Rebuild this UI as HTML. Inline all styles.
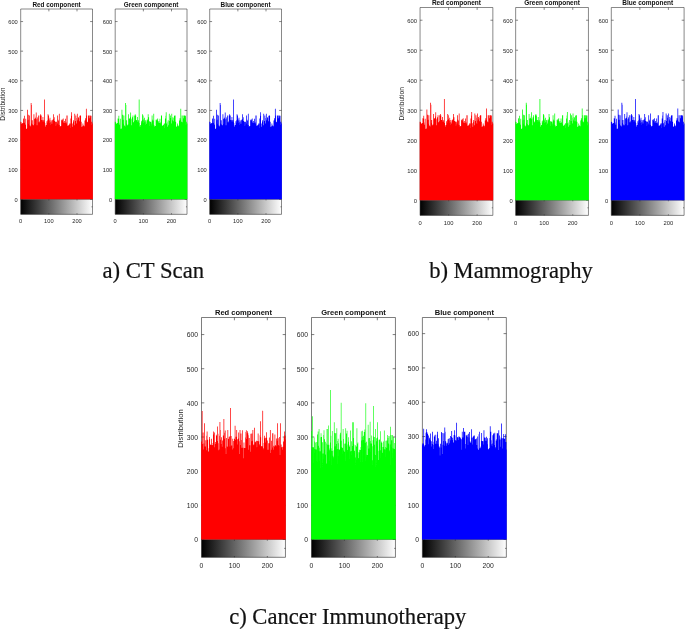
<!DOCTYPE html>
<html><head><meta charset="utf-8"><title>Histograms</title>
<style>
html,body{margin:0;padding:0;background:#fff;}
body{width:685px;height:629px;overflow:hidden;}
svg{display:block;}
.t{font-family:"Liberation Sans",Arial,sans-serif;fill:#262626;}
.b{font-family:"Liberation Sans",Arial,sans-serif;font-weight:bold;fill:#111;}
.s{font-family:"Liberation Serif","Times New Roman",serif;fill:#111;stroke:#111;stroke-width:0.2px;}
</style></head><body>
<svg width="685" height="629" viewBox="0 0 685 629">
<defs><linearGradient id="gr" x1="0" y1="0" x2="1" y2="0"><stop offset="0" stop-color="#000"/><stop offset="1" stop-color="#fff"/></linearGradient></defs>
<rect width="685" height="629" fill="#fff"/>
<rect x="20.7" y="199.3" width="71.8" height="15.05" fill="url(#gr)"/>
<path d="M20.7 214.35V9H92.5V214.35H20.7M20.7 199.3H92.5" fill="none" stroke="#262626" stroke-width="0.55"/>
<path d="M20.7 199.3h2.38M92.5 199.3h-2.38M20.7 169.68h2.38M92.5 169.68h-2.38M20.7 140.05h2.38M92.5 140.05h-2.38M20.7 110.43h2.38M92.5 110.43h-2.38M20.7 80.81h2.38M92.5 80.81h-2.38M20.7 51.18h2.38M92.5 51.18h-2.38M20.7 21.56h2.38M92.5 21.56h-2.38M48.86 9v2.38M48.86 214.35v-1.07M48.86 199.3v1.07M77.01 9v2.38M77.01 214.35v-1.07M77.01 199.3v1.07M92.5 206.82h-1.07" fill="none" stroke="#262626" stroke-width="0.55"/>
<path d="M20.33 199.3V121.73H21.07V199.3zM20.62 199.3V122.16H21.35V199.3zM20.9 199.3V122.47H21.63V199.3zM21.18 199.3V129.09H21.91V199.3zM21.46 199.3V124.02H22.19V199.3zM21.74 199.3V124.34H22.47V199.3zM22.02 199.3V123.22H22.76V199.3zM22.3 199.3V125.47H23.04V199.3zM22.59 199.3V123.05H23.32V199.3zM22.87 199.3V124.85H23.6V199.3zM23.15 199.3V118.43H23.88V199.3zM23.43 199.3V119.2H24.16V199.3zM23.71 199.3V119.22H24.44V199.3zM23.99 199.3V115.78H24.73V199.3zM24.28 199.3V122.66H25.01V199.3zM24.56 199.3V124.55H25.29V199.3zM24.84 199.3V125.13H25.57V199.3zM25.12 199.3V129.09H25.85V199.3zM25.4 199.3V118.8H26.13V199.3zM25.68 199.3V128.81H26.42V199.3zM25.97 199.3V129.26H26.7V199.3zM26.25 199.3V129.1H26.98V199.3zM26.53 199.3V129.93H27.26V199.3zM26.81 199.3V128.35H27.54V199.3zM27.09 199.3V109.84H27.82V199.3zM27.37 199.3V125.83H28.11V199.3zM27.65 199.3V120.28H28.39V199.3zM27.94 199.3V114.87H28.67V199.3zM28.22 199.3V126.06H28.95V199.3zM28.5 199.3V123.83H29.23V199.3zM28.78 199.3V119.78H29.51V199.3zM29.06 199.3V115.41H29.79V199.3zM29.34 199.3V128.03H30.08V199.3zM29.63 199.3V125.47H30.36V199.3zM29.91 199.3V126.21H30.64V199.3zM30.19 199.3V129.09H30.92V199.3zM30.47 199.3V126.7H31.2V199.3zM30.75 199.3V103.02H31.48V199.3zM31.03 199.3V105.1H31.77V199.3zM31.32 199.3V123.42H32.05V199.3zM31.6 199.3V129.09H32.33V199.3zM31.88 199.3V120.19H32.61V199.3zM32.16 199.3V124.35H32.89V199.3zM32.44 199.3V129.09H33.17V199.3zM32.72 199.3V125.35H33.46V199.3zM33 199.3V125.31H33.74V199.3zM33.29 199.3V126.5H34.02V199.3zM33.57 199.3V114.28H34.3V199.3zM33.85 199.3V129.09H34.58V199.3zM34.13 199.3V123.98H34.86V199.3zM34.41 199.3V118.67H35.14V199.3zM34.69 199.3V119.34H35.43V199.3zM34.98 199.3V118.28H35.71V199.3zM35.26 199.3V118.23H35.99V199.3zM35.54 199.3V116.7H36.27V199.3zM35.82 199.3V112.5H36.55V199.3zM36.1 199.3V119.36H36.83V199.3zM36.38 199.3V129.09H37.12V199.3zM36.66 199.3V125.37H37.4V199.3zM36.95 199.3V129.09H37.68V199.3zM37.23 199.3V118.52H37.96V199.3zM37.51 199.3V117.34H38.24V199.3zM37.79 199.3V123.69H38.52V199.3zM38.07 199.3V115.51H38.8V199.3zM38.35 199.3V125.67H39.09V199.3zM38.64 199.3V122.25H39.37V199.3zM38.92 199.3V122.24H39.65V199.3zM39.2 199.3V127.29H39.93V199.3zM39.48 199.3V121.06H40.21V199.3zM39.76 199.3V115.41H40.49V199.3zM40.04 199.3V127.12H40.78V199.3zM40.33 199.3V114.28H41.06V199.3zM40.61 199.3V123.51H41.34V199.3zM40.89 199.3V115.53H41.62V199.3zM41.17 199.3V120.87H41.9V199.3zM41.45 199.3V120.07H42.18V199.3zM41.73 199.3V120.2H42.47V199.3zM42.01 199.3V121.84H42.75V199.3zM42.3 199.3V128.66H43.03V199.3zM42.58 199.3V117.1H43.31V199.3zM42.86 199.3V128.56H43.59V199.3zM43.14 199.3V121.88H43.87V199.3zM43.42 199.3V120.33H44.15V199.3zM43.7 199.3V126.35H44.44V199.3zM43.99 199.3V122.27H44.72V199.3zM44.27 199.3V99.47H45V199.3zM44.55 199.3V122.97H45.28V199.3zM44.83 199.3V126.56H45.56V199.3zM45.11 199.3V129.09H45.84V199.3zM45.39 199.3V126.9H46.13V199.3zM45.68 199.3V125.32H46.41V199.3zM45.96 199.3V125.01H46.69V199.3zM46.24 199.3V126.85H46.97V199.3zM46.52 199.3V121.31H47.25V199.3zM46.8 199.3V125.26H47.53V199.3zM47.08 199.3V123.33H47.82V199.3zM47.36 199.3V120.06H48.1V199.3zM47.65 199.3V114.28H48.38V199.3zM47.93 199.3V124.12H48.66V199.3zM48.21 199.3V115.41H48.94V199.3zM48.49 199.3V119.25H49.22V199.3zM48.77 199.3V128.24H49.5V199.3zM49.05 199.3V123.2H49.79V199.3zM49.34 199.3V120.53H50.07V199.3zM49.62 199.3V117.76H50.35V199.3zM49.9 199.3V122.25H50.63V199.3zM50.18 199.3V125.07H50.91V199.3zM50.46 199.3V125.9H51.19V199.3zM50.74 199.3V120.2H51.48V199.3zM51.02 199.3V121.57H51.76V199.3zM51.31 199.3V125.01H52.04V199.3zM51.59 199.3V123.66H52.32V199.3zM51.87 199.3V124.6H52.6V199.3zM52.15 199.3V119.87H52.88V199.3zM52.43 199.3V125.73H53.16V199.3zM52.71 199.3V120.85H53.45V199.3zM53 199.3V119.34H53.73V199.3zM53.28 199.3V114.28H54.01V199.3zM53.56 199.3V126.33H54.29V199.3zM53.84 199.3V117.29H54.57V199.3zM54.12 199.3V125.68H54.85V199.3zM54.4 199.3V121.1H55.14V199.3zM54.69 199.3V126H55.42V199.3zM54.97 199.3V129.09H55.7V199.3zM55.25 199.3V121.94H55.98V199.3zM55.53 199.3V121.68H56.26V199.3zM55.81 199.3V123.19H56.54V199.3zM56.09 199.3V121.73H56.83V199.3zM56.37 199.3V125.56H57.11V199.3zM56.66 199.3V125.93H57.39V199.3zM56.94 199.3V123.57H57.67V199.3zM57.22 199.3V115.41H57.95V199.3zM57.5 199.3V119.49H58.23V199.3zM57.78 199.3V125.03H58.51V199.3zM58.06 199.3V120.55H58.8V199.3zM58.35 199.3V124.86H59.08V199.3zM58.63 199.3V124.77H59.36V199.3zM58.91 199.3V113.69H59.64V199.3zM59.19 199.3V125.05H59.92V199.3zM59.47 199.3V129.09H60.2V199.3zM59.75 199.3V126.85H60.49V199.3zM60.04 199.3V126.25H60.77V199.3zM60.32 199.3V127.05H61.05V199.3zM60.6 199.3V126.09H61.33V199.3zM60.88 199.3V127.27H61.61V199.3zM61.16 199.3V119.84H61.89V199.3zM61.44 199.3V121.11H62.18V199.3zM61.72 199.3V123.49H62.46V199.3zM62.01 199.3V119.41H62.74V199.3zM62.29 199.3V120.83H63.02V199.3zM62.57 199.3V126.45H63.3V199.3zM62.85 199.3V118.43H63.58V199.3zM63.13 199.3V127.94H63.86V199.3zM63.41 199.3V122.62H64.15V199.3zM63.7 199.3V122.86H64.43V199.3zM63.98 199.3V121.11H64.71V199.3zM64.26 199.3V125.88H64.99V199.3zM64.54 199.3V123.02H65.27V199.3zM64.82 199.3V123.46H65.55V199.3zM65.1 199.3V118.74H65.84V199.3zM65.38 199.3V126.17H66.12V199.3zM65.67 199.3V122.57H66.4V199.3zM65.95 199.3V123.96H66.68V199.3zM66.23 199.3V128.26H66.96V199.3zM66.51 199.3V115.41H67.24V199.3zM66.79 199.3V115.47H67.52V199.3zM67.07 199.3V129.04H67.81V199.3zM67.36 199.3V125.79H68.09V199.3zM67.64 199.3V127.31H68.37V199.3zM67.92 199.3V126.34H68.65V199.3zM68.2 199.3V125.25H68.93V199.3zM68.48 199.3V127.5H69.21V199.3zM68.76 199.3V124.66H69.5V199.3zM69.05 199.3V125.11H69.78V199.3zM69.33 199.3V123.41H70.06V199.3zM69.61 199.3V129.09H70.34V199.3zM69.89 199.3V128H70.62V199.3zM70.17 199.3V123.46H70.9V199.3zM70.45 199.3V118.56H71.19V199.3zM70.73 199.3V120.25H71.47V199.3zM71.02 199.3V115.7H71.75V199.3zM71.3 199.3V112.21H72.03V199.3zM71.58 199.3V124.99H72.31V199.3zM71.86 199.3V123.38H72.59V199.3zM72.14 199.3V129.09H72.87V199.3zM72.42 199.3V126.86H73.16V199.3zM72.71 199.3V127.1H73.44V199.3zM72.99 199.3V121.75H73.72V199.3zM73.27 199.3V120.19H74V199.3zM73.55 199.3V125.2H74.28V199.3zM73.83 199.3V125.31H74.56V199.3zM74.11 199.3V129.09H74.85V199.3zM74.4 199.3V113.69H75.13V199.3zM74.68 199.3V121.84H75.41V199.3zM74.96 199.3V121.02H75.69V199.3zM75.24 199.3V126.12H75.97V199.3zM75.52 199.3V115.41H76.25V199.3zM75.8 199.3V117.92H76.54V199.3zM76.08 199.3V123.27H76.82V199.3zM76.37 199.3V125.06H77.1V199.3zM76.65 199.3V124.21H77.38V199.3zM76.93 199.3V113.69H77.66V199.3zM77.21 199.3V122.95H77.94V199.3zM77.49 199.3V120.87H78.22V199.3zM77.77 199.3V119.68H78.51V199.3zM78.06 199.3V117.21H78.79V199.3zM78.34 199.3V118.11H79.07V199.3zM78.62 199.3V123.33H79.35V199.3zM78.9 199.3V121.26H79.63V199.3zM79.18 199.3V124.48H79.91V199.3zM79.46 199.3V116.06H80.2V199.3zM79.74 199.3V115.41H80.48V199.3zM80.03 199.3V124.78H80.76V199.3zM80.31 199.3V115.41H81.04V199.3zM80.59 199.3V124.32H81.32V199.3zM80.87 199.3V121.82H81.6V199.3zM81.15 199.3V126.99H81.88V199.3zM81.43 199.3V127.31H82.17V199.3zM81.72 199.3V126.82H82.45V199.3zM82 199.3V126.8H82.73V199.3zM82.28 199.3V126.09H83.01V199.3zM82.56 199.3V123.56H83.29V199.3zM82.84 199.3V125.57H83.57V199.3zM83.12 199.3V126.6H83.86V199.3zM83.41 199.3V125.56H84.14V199.3zM83.69 199.3V127.22H84.42V199.3zM83.97 199.3V129.09H84.7V199.3zM84.25 199.3V125.96H84.98V199.3zM84.53 199.3V120.54H85.26V199.3zM84.81 199.3V124.09H85.55V199.3zM85.09 199.3V118.33H85.83V199.3zM85.38 199.3V120.22H86.11V199.3zM85.66 199.3V124.01H86.39V199.3zM85.94 199.3V108.65H86.67V199.3zM86.22 199.3V115.41H86.95V199.3zM86.5 199.3V121.83H87.23V199.3zM86.78 199.3V121.63H87.52V199.3zM87.07 199.3V124.7H87.8V199.3zM87.35 199.3V122.32H88.08V199.3zM87.63 199.3V128.22H88.36V199.3zM87.91 199.3V115.47H88.64V199.3zM88.19 199.3V115.41H88.92V199.3zM88.47 199.3V118.45H89.21V199.3zM88.76 199.3V120.21H89.49V199.3zM89.04 199.3V118.29H89.77V199.3zM89.32 199.3V115.41H90.05V199.3zM89.6 199.3V120.41H90.33V199.3zM89.88 199.3V115.41H90.61V199.3zM90.16 199.3V118.44H90.9V199.3zM90.44 199.3V117.54H91.18V199.3zM90.73 199.3V115.74H91.46V199.3zM91.01 199.3V129.09H91.74V199.3zM91.29 199.3V125.24H92.02V199.3zM91.57 199.3V121.77H92.3V199.3zM91.85 199.3V126.65H92.58V199.3zM92.13 199.3V123.52H92.87V199.3z" fill="#ff0000"/>
<text x="17.79" y="201.7" font-size="5.7" text-anchor="end" class="t">0</text>
<text x="17.79" y="172.08" font-size="5.7" text-anchor="end" class="t">100</text>
<text x="17.79" y="142.46" font-size="5.7" text-anchor="end" class="t">200</text>
<text x="17.79" y="112.83" font-size="5.7" text-anchor="end" class="t">300</text>
<text x="17.79" y="83.21" font-size="5.7" text-anchor="end" class="t">400</text>
<text x="17.79" y="53.59" font-size="5.7" text-anchor="end" class="t">500</text>
<text x="17.79" y="23.96" font-size="5.7" text-anchor="end" class="t">600</text>
<text x="20.7" y="223.25" font-size="5.7" text-anchor="middle" class="t">0</text>
<text x="48.86" y="223.25" font-size="5.7" text-anchor="middle" class="t">100</text>
<text x="77.01" y="223.25" font-size="5.7" text-anchor="middle" class="t">200</text>
<text x="56.6" y="6.7" font-size="6.4" text-anchor="middle" class="b">Red component</text>
<text transform="translate(4.6 104.15) rotate(-90)" font-size="6.6" text-anchor="middle" class="t">Distribution</text>
<rect x="115.2" y="199.3" width="71.8" height="15.05" fill="url(#gr)"/>
<path d="M115.2 214.35V9H187V214.35H115.2M115.2 199.3H187" fill="none" stroke="#262626" stroke-width="0.55"/>
<path d="M115.2 199.3h2.38M187 199.3h-2.38M115.2 169.68h2.38M187 169.68h-2.38M115.2 140.05h2.38M187 140.05h-2.38M115.2 110.43h2.38M187 110.43h-2.38M115.2 80.81h2.38M187 80.81h-2.38M115.2 51.18h2.38M187 51.18h-2.38M115.2 21.56h2.38M187 21.56h-2.38M143.36 9v2.38M143.36 214.35v-1.07M143.36 199.3v1.07M171.51 9v2.38M171.51 214.35v-1.07M171.51 199.3v1.07M187 206.82h-1.07" fill="none" stroke="#262626" stroke-width="0.55"/>
<path d="M114.83 199.3V121.73H115.57V199.3zM115.12 199.3V122.16H115.85V199.3zM115.4 199.3V122.47H116.13V199.3zM115.68 199.3V129.09H116.41V199.3zM115.96 199.3V124.02H116.69V199.3zM116.24 199.3V124.34H116.97V199.3zM116.52 199.3V123.22H117.26V199.3zM116.8 199.3V125.47H117.54V199.3zM117.09 199.3V123.05H117.82V199.3zM117.37 199.3V124.85H118.1V199.3zM117.65 199.3V118.43H118.38V199.3zM117.93 199.3V119.2H118.66V199.3zM118.21 199.3V119.22H118.94V199.3zM118.49 199.3V115.78H119.23V199.3zM118.78 199.3V122.66H119.51V199.3zM119.06 199.3V124.55H119.79V199.3zM119.34 199.3V125.13H120.07V199.3zM119.62 199.3V129.09H120.35V199.3zM119.9 199.3V118.8H120.63V199.3zM120.18 199.3V128.81H120.92V199.3zM120.47 199.3V129.26H121.2V199.3zM120.75 199.3V129.1H121.48V199.3zM121.03 199.3V129.93H121.76V199.3zM121.31 199.3V128.35H122.04V199.3zM121.59 199.3V109.84H122.32V199.3zM121.87 199.3V125.83H122.61V199.3zM122.15 199.3V120.28H122.89V199.3zM122.44 199.3V114.87H123.17V199.3zM122.72 199.3V126.06H123.45V199.3zM123 199.3V123.83H123.73V199.3zM123.28 199.3V119.78H124.01V199.3zM123.56 199.3V115.41H124.29V199.3zM123.84 199.3V128.03H124.58V199.3zM124.13 199.3V125.47H124.86V199.3zM124.41 199.3V126.21H125.14V199.3zM124.69 199.3V129.09H125.42V199.3zM124.97 199.3V126.7H125.7V199.3zM125.25 199.3V103.02H125.98V199.3zM125.53 199.3V105.1H126.27V199.3zM125.82 199.3V123.42H126.55V199.3zM126.1 199.3V129.09H126.83V199.3zM126.38 199.3V120.19H127.11V199.3zM126.66 199.3V124.35H127.39V199.3zM126.94 199.3V129.09H127.67V199.3zM127.22 199.3V125.35H127.96V199.3zM127.5 199.3V125.31H128.24V199.3zM127.79 199.3V126.5H128.52V199.3zM128.07 199.3V114.28H128.8V199.3zM128.35 199.3V129.09H129.08V199.3zM128.63 199.3V123.98H129.36V199.3zM128.91 199.3V118.67H129.64V199.3zM129.19 199.3V119.34H129.93V199.3zM129.48 199.3V118.28H130.21V199.3zM129.76 199.3V118.23H130.49V199.3zM130.04 199.3V116.7H130.77V199.3zM130.32 199.3V112.5H131.05V199.3zM130.6 199.3V119.36H131.33V199.3zM130.88 199.3V129.09H131.62V199.3zM131.16 199.3V125.37H131.9V199.3zM131.45 199.3V129.09H132.18V199.3zM131.73 199.3V118.52H132.46V199.3zM132.01 199.3V117.34H132.74V199.3zM132.29 199.3V123.69H133.02V199.3zM132.57 199.3V115.51H133.3V199.3zM132.85 199.3V125.67H133.59V199.3zM133.14 199.3V122.25H133.87V199.3zM133.42 199.3V122.24H134.15V199.3zM133.7 199.3V127.29H134.43V199.3zM133.98 199.3V121.06H134.71V199.3zM134.26 199.3V115.41H134.99V199.3zM134.54 199.3V127.12H135.28V199.3zM134.83 199.3V114.28H135.56V199.3zM135.11 199.3V123.51H135.84V199.3zM135.39 199.3V115.53H136.12V199.3zM135.67 199.3V120.87H136.4V199.3zM135.95 199.3V120.07H136.68V199.3zM136.23 199.3V120.2H136.97V199.3zM136.51 199.3V121.84H137.25V199.3zM136.8 199.3V128.66H137.53V199.3zM137.08 199.3V117.1H137.81V199.3zM137.36 199.3V128.56H138.09V199.3zM137.64 199.3V121.88H138.37V199.3zM137.92 199.3V120.33H138.65V199.3zM138.2 199.3V126.35H138.94V199.3zM138.49 199.3V122.27H139.22V199.3zM138.77 199.3V99.47H139.5V199.3zM139.05 199.3V122.97H139.78V199.3zM139.33 199.3V126.56H140.06V199.3zM139.61 199.3V129.09H140.34V199.3zM139.89 199.3V126.9H140.63V199.3zM140.18 199.3V125.32H140.91V199.3zM140.46 199.3V125.01H141.19V199.3zM140.74 199.3V126.85H141.47V199.3zM141.02 199.3V121.31H141.75V199.3zM141.3 199.3V125.26H142.03V199.3zM141.58 199.3V123.33H142.32V199.3zM141.86 199.3V120.06H142.6V199.3zM142.15 199.3V114.28H142.88V199.3zM142.43 199.3V124.12H143.16V199.3zM142.71 199.3V115.41H143.44V199.3zM142.99 199.3V119.25H143.72V199.3zM143.27 199.3V128.24H144V199.3zM143.55 199.3V123.2H144.29V199.3zM143.84 199.3V120.53H144.57V199.3zM144.12 199.3V117.76H144.85V199.3zM144.4 199.3V122.25H145.13V199.3zM144.68 199.3V125.07H145.41V199.3zM144.96 199.3V125.9H145.69V199.3zM145.24 199.3V120.2H145.98V199.3zM145.52 199.3V121.57H146.26V199.3zM145.81 199.3V125.01H146.54V199.3zM146.09 199.3V123.66H146.82V199.3zM146.37 199.3V124.6H147.1V199.3zM146.65 199.3V119.87H147.38V199.3zM146.93 199.3V125.73H147.66V199.3zM147.21 199.3V120.85H147.95V199.3zM147.5 199.3V119.34H148.23V199.3zM147.78 199.3V114.28H148.51V199.3zM148.06 199.3V126.33H148.79V199.3zM148.34 199.3V117.29H149.07V199.3zM148.62 199.3V125.68H149.35V199.3zM148.9 199.3V121.1H149.64V199.3zM149.19 199.3V126H149.92V199.3zM149.47 199.3V129.09H150.2V199.3zM149.75 199.3V121.94H150.48V199.3zM150.03 199.3V121.68H150.76V199.3zM150.31 199.3V123.19H151.04V199.3zM150.59 199.3V121.73H151.33V199.3zM150.87 199.3V125.56H151.61V199.3zM151.16 199.3V125.93H151.89V199.3zM151.44 199.3V123.57H152.17V199.3zM151.72 199.3V115.41H152.45V199.3zM152 199.3V119.49H152.73V199.3zM152.28 199.3V125.03H153.01V199.3zM152.56 199.3V120.55H153.3V199.3zM152.85 199.3V124.86H153.58V199.3zM153.13 199.3V124.77H153.86V199.3zM153.41 199.3V113.69H154.14V199.3zM153.69 199.3V125.05H154.42V199.3zM153.97 199.3V129.09H154.7V199.3zM154.25 199.3V126.85H154.99V199.3zM154.54 199.3V126.25H155.27V199.3zM154.82 199.3V127.05H155.55V199.3zM155.1 199.3V126.09H155.83V199.3zM155.38 199.3V127.27H156.11V199.3zM155.66 199.3V119.84H156.39V199.3zM155.94 199.3V121.11H156.68V199.3zM156.22 199.3V123.49H156.96V199.3zM156.51 199.3V119.41H157.24V199.3zM156.79 199.3V120.83H157.52V199.3zM157.07 199.3V126.45H157.8V199.3zM157.35 199.3V118.43H158.08V199.3zM157.63 199.3V127.94H158.36V199.3zM157.91 199.3V122.62H158.65V199.3zM158.2 199.3V122.86H158.93V199.3zM158.48 199.3V121.11H159.21V199.3zM158.76 199.3V125.88H159.49V199.3zM159.04 199.3V123.02H159.77V199.3zM159.32 199.3V123.46H160.05V199.3zM159.6 199.3V118.74H160.34V199.3zM159.88 199.3V126.17H160.62V199.3zM160.17 199.3V122.57H160.9V199.3zM160.45 199.3V123.96H161.18V199.3zM160.73 199.3V128.26H161.46V199.3zM161.01 199.3V115.41H161.74V199.3zM161.29 199.3V115.47H162.02V199.3zM161.57 199.3V129.04H162.31V199.3zM161.86 199.3V125.79H162.59V199.3zM162.14 199.3V127.31H162.87V199.3zM162.42 199.3V126.34H163.15V199.3zM162.7 199.3V125.25H163.43V199.3zM162.98 199.3V127.5H163.71V199.3zM163.26 199.3V124.66H164V199.3zM163.55 199.3V125.11H164.28V199.3zM163.83 199.3V123.41H164.56V199.3zM164.11 199.3V129.09H164.84V199.3zM164.39 199.3V128H165.12V199.3zM164.67 199.3V123.46H165.4V199.3zM164.95 199.3V118.56H165.69V199.3zM165.23 199.3V120.25H165.97V199.3zM165.52 199.3V115.7H166.25V199.3zM165.8 199.3V112.21H166.53V199.3zM166.08 199.3V124.99H166.81V199.3zM166.36 199.3V123.38H167.09V199.3zM166.64 199.3V129.09H167.37V199.3zM166.92 199.3V126.86H167.66V199.3zM167.21 199.3V127.1H167.94V199.3zM167.49 199.3V121.75H168.22V199.3zM167.77 199.3V120.19H168.5V199.3zM168.05 199.3V125.2H168.78V199.3zM168.33 199.3V125.31H169.06V199.3zM168.61 199.3V129.09H169.35V199.3zM168.9 199.3V113.69H169.63V199.3zM169.18 199.3V121.84H169.91V199.3zM169.46 199.3V121.02H170.19V199.3zM169.74 199.3V126.12H170.47V199.3zM170.02 199.3V115.41H170.75V199.3zM170.3 199.3V117.92H171.04V199.3zM170.58 199.3V123.27H171.32V199.3zM170.87 199.3V125.06H171.6V199.3zM171.15 199.3V124.21H171.88V199.3zM171.43 199.3V113.69H172.16V199.3zM171.71 199.3V122.95H172.44V199.3zM171.99 199.3V120.87H172.72V199.3zM172.27 199.3V119.68H173.01V199.3zM172.56 199.3V117.21H173.29V199.3zM172.84 199.3V118.11H173.57V199.3zM173.12 199.3V123.33H173.85V199.3zM173.4 199.3V121.26H174.13V199.3zM173.68 199.3V124.48H174.41V199.3zM173.96 199.3V116.06H174.7V199.3zM174.24 199.3V115.41H174.98V199.3zM174.53 199.3V124.78H175.26V199.3zM174.81 199.3V115.41H175.54V199.3zM175.09 199.3V124.32H175.82V199.3zM175.37 199.3V121.82H176.1V199.3zM175.65 199.3V126.99H176.38V199.3zM175.93 199.3V127.31H176.67V199.3zM176.22 199.3V126.82H176.95V199.3zM176.5 199.3V126.8H177.23V199.3zM176.78 199.3V126.09H177.51V199.3zM177.06 199.3V123.56H177.79V199.3zM177.34 199.3V125.57H178.07V199.3zM177.62 199.3V126.6H178.36V199.3zM177.91 199.3V125.56H178.64V199.3zM178.19 199.3V127.22H178.92V199.3zM178.47 199.3V129.09H179.2V199.3zM178.75 199.3V125.96H179.48V199.3zM179.03 199.3V120.54H179.76V199.3zM179.31 199.3V124.09H180.05V199.3zM179.59 199.3V118.33H180.33V199.3zM179.88 199.3V120.22H180.61V199.3zM180.16 199.3V124.01H180.89V199.3zM180.44 199.3V108.65H181.17V199.3zM180.72 199.3V115.41H181.45V199.3zM181 199.3V121.83H181.73V199.3zM181.28 199.3V121.63H182.02V199.3zM181.57 199.3V124.7H182.3V199.3zM181.85 199.3V122.32H182.58V199.3zM182.13 199.3V128.22H182.86V199.3zM182.41 199.3V115.47H183.14V199.3zM182.69 199.3V115.41H183.42V199.3zM182.97 199.3V118.45H183.71V199.3zM183.26 199.3V120.21H183.99V199.3zM183.54 199.3V118.29H184.27V199.3zM183.82 199.3V115.41H184.55V199.3zM184.1 199.3V120.41H184.83V199.3zM184.38 199.3V115.41H185.11V199.3zM184.66 199.3V118.44H185.4V199.3zM184.94 199.3V117.54H185.68V199.3zM185.23 199.3V115.74H185.96V199.3zM185.51 199.3V129.09H186.24V199.3zM185.79 199.3V125.24H186.52V199.3zM186.07 199.3V121.77H186.8V199.3zM186.35 199.3V126.65H187.08V199.3zM186.63 199.3V123.52H187.37V199.3z" fill="#00ff00"/>
<text x="112.29" y="201.7" font-size="5.7" text-anchor="end" class="t">0</text>
<text x="112.29" y="172.08" font-size="5.7" text-anchor="end" class="t">100</text>
<text x="112.29" y="142.46" font-size="5.7" text-anchor="end" class="t">200</text>
<text x="112.29" y="112.83" font-size="5.7" text-anchor="end" class="t">300</text>
<text x="112.29" y="83.21" font-size="5.7" text-anchor="end" class="t">400</text>
<text x="112.29" y="53.59" font-size="5.7" text-anchor="end" class="t">500</text>
<text x="112.29" y="23.96" font-size="5.7" text-anchor="end" class="t">600</text>
<text x="115.2" y="223.25" font-size="5.7" text-anchor="middle" class="t">0</text>
<text x="143.36" y="223.25" font-size="5.7" text-anchor="middle" class="t">100</text>
<text x="171.51" y="223.25" font-size="5.7" text-anchor="middle" class="t">200</text>
<text x="151.1" y="6.7" font-size="6.4" text-anchor="middle" class="b">Green component</text>
<rect x="209.7" y="199.3" width="71.8" height="15.05" fill="url(#gr)"/>
<path d="M209.7 214.35V9H281.5V214.35H209.7M209.7 199.3H281.5" fill="none" stroke="#262626" stroke-width="0.55"/>
<path d="M209.7 199.3h2.38M281.5 199.3h-2.38M209.7 169.68h2.38M281.5 169.68h-2.38M209.7 140.05h2.38M281.5 140.05h-2.38M209.7 110.43h2.38M281.5 110.43h-2.38M209.7 80.81h2.38M281.5 80.81h-2.38M209.7 51.18h2.38M281.5 51.18h-2.38M209.7 21.56h2.38M281.5 21.56h-2.38M237.86 9v2.38M237.86 214.35v-1.07M237.86 199.3v1.07M266.01 9v2.38M266.01 214.35v-1.07M266.01 199.3v1.07M281.5 206.82h-1.07" fill="none" stroke="#262626" stroke-width="0.55"/>
<path d="M209.33 199.3V121.73H210.07V199.3zM209.62 199.3V122.16H210.35V199.3zM209.9 199.3V122.47H210.63V199.3zM210.18 199.3V129.09H210.91V199.3zM210.46 199.3V124.02H211.19V199.3zM210.74 199.3V124.34H211.47V199.3zM211.02 199.3V123.22H211.76V199.3zM211.3 199.3V125.47H212.04V199.3zM211.59 199.3V123.05H212.32V199.3zM211.87 199.3V124.85H212.6V199.3zM212.15 199.3V118.43H212.88V199.3zM212.43 199.3V119.2H213.16V199.3zM212.71 199.3V119.22H213.44V199.3zM212.99 199.3V115.78H213.73V199.3zM213.28 199.3V122.66H214.01V199.3zM213.56 199.3V124.55H214.29V199.3zM213.84 199.3V125.13H214.57V199.3zM214.12 199.3V129.09H214.85V199.3zM214.4 199.3V118.8H215.13V199.3zM214.68 199.3V128.81H215.42V199.3zM214.97 199.3V129.26H215.7V199.3zM215.25 199.3V129.1H215.98V199.3zM215.53 199.3V129.93H216.26V199.3zM215.81 199.3V128.35H216.54V199.3zM216.09 199.3V109.84H216.82V199.3zM216.37 199.3V125.83H217.11V199.3zM216.65 199.3V120.28H217.39V199.3zM216.94 199.3V114.87H217.67V199.3zM217.22 199.3V126.06H217.95V199.3zM217.5 199.3V123.83H218.23V199.3zM217.78 199.3V119.78H218.51V199.3zM218.06 199.3V115.41H218.79V199.3zM218.34 199.3V128.03H219.08V199.3zM218.63 199.3V125.47H219.36V199.3zM218.91 199.3V126.21H219.64V199.3zM219.19 199.3V129.09H219.92V199.3zM219.47 199.3V126.7H220.2V199.3zM219.75 199.3V103.02H220.48V199.3zM220.03 199.3V105.1H220.77V199.3zM220.32 199.3V123.42H221.05V199.3zM220.6 199.3V129.09H221.33V199.3zM220.88 199.3V120.19H221.61V199.3zM221.16 199.3V124.35H221.89V199.3zM221.44 199.3V129.09H222.17V199.3zM221.72 199.3V125.35H222.46V199.3zM222 199.3V125.31H222.74V199.3zM222.29 199.3V126.5H223.02V199.3zM222.57 199.3V114.28H223.3V199.3zM222.85 199.3V129.09H223.58V199.3zM223.13 199.3V123.98H223.86V199.3zM223.41 199.3V118.67H224.14V199.3zM223.69 199.3V119.34H224.43V199.3zM223.98 199.3V118.28H224.71V199.3zM224.26 199.3V118.23H224.99V199.3zM224.54 199.3V116.7H225.27V199.3zM224.82 199.3V112.5H225.55V199.3zM225.1 199.3V119.36H225.83V199.3zM225.38 199.3V129.09H226.12V199.3zM225.66 199.3V125.37H226.4V199.3zM225.95 199.3V129.09H226.68V199.3zM226.23 199.3V118.52H226.96V199.3zM226.51 199.3V117.34H227.24V199.3zM226.79 199.3V123.69H227.52V199.3zM227.07 199.3V115.51H227.8V199.3zM227.35 199.3V125.67H228.09V199.3zM227.64 199.3V122.25H228.37V199.3zM227.92 199.3V122.24H228.65V199.3zM228.2 199.3V127.29H228.93V199.3zM228.48 199.3V121.06H229.21V199.3zM228.76 199.3V115.41H229.49V199.3zM229.04 199.3V127.12H229.78V199.3zM229.33 199.3V114.28H230.06V199.3zM229.61 199.3V123.51H230.34V199.3zM229.89 199.3V115.53H230.62V199.3zM230.17 199.3V120.87H230.9V199.3zM230.45 199.3V120.07H231.18V199.3zM230.73 199.3V120.2H231.47V199.3zM231.01 199.3V121.84H231.75V199.3zM231.3 199.3V128.66H232.03V199.3zM231.58 199.3V117.1H232.31V199.3zM231.86 199.3V128.56H232.59V199.3zM232.14 199.3V121.88H232.87V199.3zM232.42 199.3V120.33H233.15V199.3zM232.7 199.3V126.35H233.44V199.3zM232.99 199.3V122.27H233.72V199.3zM233.27 199.3V99.47H234V199.3zM233.55 199.3V122.97H234.28V199.3zM233.83 199.3V126.56H234.56V199.3zM234.11 199.3V129.09H234.84V199.3zM234.39 199.3V126.9H235.13V199.3zM234.68 199.3V125.32H235.41V199.3zM234.96 199.3V125.01H235.69V199.3zM235.24 199.3V126.85H235.97V199.3zM235.52 199.3V121.31H236.25V199.3zM235.8 199.3V125.26H236.53V199.3zM236.08 199.3V123.33H236.82V199.3zM236.36 199.3V120.06H237.1V199.3zM236.65 199.3V114.28H237.38V199.3zM236.93 199.3V124.12H237.66V199.3zM237.21 199.3V115.41H237.94V199.3zM237.49 199.3V119.25H238.22V199.3zM237.77 199.3V128.24H238.5V199.3zM238.05 199.3V123.2H238.79V199.3zM238.34 199.3V120.53H239.07V199.3zM238.62 199.3V117.76H239.35V199.3zM238.9 199.3V122.25H239.63V199.3zM239.18 199.3V125.07H239.91V199.3zM239.46 199.3V125.9H240.19V199.3zM239.74 199.3V120.2H240.48V199.3zM240.02 199.3V121.57H240.76V199.3zM240.31 199.3V125.01H241.04V199.3zM240.59 199.3V123.66H241.32V199.3zM240.87 199.3V124.6H241.6V199.3zM241.15 199.3V119.87H241.88V199.3zM241.43 199.3V125.73H242.16V199.3zM241.71 199.3V120.85H242.45V199.3zM242 199.3V119.34H242.73V199.3zM242.28 199.3V114.28H243.01V199.3zM242.56 199.3V126.33H243.29V199.3zM242.84 199.3V117.29H243.57V199.3zM243.12 199.3V125.68H243.85V199.3zM243.4 199.3V121.1H244.14V199.3zM243.69 199.3V126H244.42V199.3zM243.97 199.3V129.09H244.7V199.3zM244.25 199.3V121.94H244.98V199.3zM244.53 199.3V121.68H245.26V199.3zM244.81 199.3V123.19H245.54V199.3zM245.09 199.3V121.73H245.83V199.3zM245.37 199.3V125.56H246.11V199.3zM245.66 199.3V125.93H246.39V199.3zM245.94 199.3V123.57H246.67V199.3zM246.22 199.3V115.41H246.95V199.3zM246.5 199.3V119.49H247.23V199.3zM246.78 199.3V125.03H247.51V199.3zM247.06 199.3V120.55H247.8V199.3zM247.35 199.3V124.86H248.08V199.3zM247.63 199.3V124.77H248.36V199.3zM247.91 199.3V113.69H248.64V199.3zM248.19 199.3V125.05H248.92V199.3zM248.47 199.3V129.09H249.2V199.3zM248.75 199.3V126.85H249.49V199.3zM249.04 199.3V126.25H249.77V199.3zM249.32 199.3V127.05H250.05V199.3zM249.6 199.3V126.09H250.33V199.3zM249.88 199.3V127.27H250.61V199.3zM250.16 199.3V119.84H250.89V199.3zM250.44 199.3V121.11H251.18V199.3zM250.72 199.3V123.49H251.46V199.3zM251.01 199.3V119.41H251.74V199.3zM251.29 199.3V120.83H252.02V199.3zM251.57 199.3V126.45H252.3V199.3zM251.85 199.3V118.43H252.58V199.3zM252.13 199.3V127.94H252.86V199.3zM252.41 199.3V122.62H253.15V199.3zM252.7 199.3V122.86H253.43V199.3zM252.98 199.3V121.11H253.71V199.3zM253.26 199.3V125.88H253.99V199.3zM253.54 199.3V123.02H254.27V199.3zM253.82 199.3V123.46H254.55V199.3zM254.1 199.3V118.74H254.84V199.3zM254.38 199.3V126.17H255.12V199.3zM254.67 199.3V122.57H255.4V199.3zM254.95 199.3V123.96H255.68V199.3zM255.23 199.3V128.26H255.96V199.3zM255.51 199.3V115.41H256.24V199.3zM255.79 199.3V115.47H256.52V199.3zM256.07 199.3V129.04H256.81V199.3zM256.36 199.3V125.79H257.09V199.3zM256.64 199.3V127.31H257.37V199.3zM256.92 199.3V126.34H257.65V199.3zM257.2 199.3V125.25H257.93V199.3zM257.48 199.3V127.5H258.21V199.3zM257.76 199.3V124.66H258.5V199.3zM258.05 199.3V125.11H258.78V199.3zM258.33 199.3V123.41H259.06V199.3zM258.61 199.3V129.09H259.34V199.3zM258.89 199.3V128H259.62V199.3zM259.17 199.3V123.46H259.9V199.3zM259.45 199.3V118.56H260.19V199.3zM259.73 199.3V120.25H260.47V199.3zM260.02 199.3V115.7H260.75V199.3zM260.3 199.3V112.21H261.03V199.3zM260.58 199.3V124.99H261.31V199.3zM260.86 199.3V123.38H261.59V199.3zM261.14 199.3V129.09H261.87V199.3zM261.42 199.3V126.86H262.16V199.3zM261.71 199.3V127.1H262.44V199.3zM261.99 199.3V121.75H262.72V199.3zM262.27 199.3V120.19H263V199.3zM262.55 199.3V125.2H263.28V199.3zM262.83 199.3V125.31H263.56V199.3zM263.11 199.3V129.09H263.85V199.3zM263.4 199.3V113.69H264.13V199.3zM263.68 199.3V121.84H264.41V199.3zM263.96 199.3V121.02H264.69V199.3zM264.24 199.3V126.12H264.97V199.3zM264.52 199.3V115.41H265.25V199.3zM264.8 199.3V117.92H265.54V199.3zM265.08 199.3V123.27H265.82V199.3zM265.37 199.3V125.06H266.1V199.3zM265.65 199.3V124.21H266.38V199.3zM265.93 199.3V113.69H266.66V199.3zM266.21 199.3V122.95H266.94V199.3zM266.49 199.3V120.87H267.22V199.3zM266.77 199.3V119.68H267.51V199.3zM267.06 199.3V117.21H267.79V199.3zM267.34 199.3V118.11H268.07V199.3zM267.62 199.3V123.33H268.35V199.3zM267.9 199.3V121.26H268.63V199.3zM268.18 199.3V124.48H268.91V199.3zM268.46 199.3V116.06H269.2V199.3zM268.74 199.3V115.41H269.48V199.3zM269.03 199.3V124.78H269.76V199.3zM269.31 199.3V115.41H270.04V199.3zM269.59 199.3V124.32H270.32V199.3zM269.87 199.3V121.82H270.6V199.3zM270.15 199.3V126.99H270.88V199.3zM270.43 199.3V127.31H271.17V199.3zM270.72 199.3V126.82H271.45V199.3zM271 199.3V126.8H271.73V199.3zM271.28 199.3V126.09H272.01V199.3zM271.56 199.3V123.56H272.29V199.3zM271.84 199.3V125.57H272.57V199.3zM272.12 199.3V126.6H272.86V199.3zM272.41 199.3V125.56H273.14V199.3zM272.69 199.3V127.22H273.42V199.3zM272.97 199.3V129.09H273.7V199.3zM273.25 199.3V125.96H273.98V199.3zM273.53 199.3V120.54H274.26V199.3zM273.81 199.3V124.09H274.55V199.3zM274.09 199.3V118.33H274.83V199.3zM274.38 199.3V120.22H275.11V199.3zM274.66 199.3V124.01H275.39V199.3zM274.94 199.3V108.65H275.67V199.3zM275.22 199.3V115.41H275.95V199.3zM275.5 199.3V121.83H276.23V199.3zM275.78 199.3V121.63H276.52V199.3zM276.07 199.3V124.7H276.8V199.3zM276.35 199.3V122.32H277.08V199.3zM276.63 199.3V128.22H277.36V199.3zM276.91 199.3V115.47H277.64V199.3zM277.19 199.3V115.41H277.92V199.3zM277.47 199.3V118.45H278.21V199.3zM277.76 199.3V120.21H278.49V199.3zM278.04 199.3V118.29H278.77V199.3zM278.32 199.3V115.41H279.05V199.3zM278.6 199.3V120.41H279.33V199.3zM278.88 199.3V115.41H279.61V199.3zM279.16 199.3V118.44H279.9V199.3zM279.44 199.3V117.54H280.18V199.3zM279.73 199.3V115.74H280.46V199.3zM280.01 199.3V129.09H280.74V199.3zM280.29 199.3V125.24H281.02V199.3zM280.57 199.3V121.77H281.3V199.3zM280.85 199.3V126.65H281.58V199.3zM281.13 199.3V123.52H281.87V199.3z" fill="#0000ff"/>
<text x="206.79" y="201.7" font-size="5.7" text-anchor="end" class="t">0</text>
<text x="206.79" y="172.08" font-size="5.7" text-anchor="end" class="t">100</text>
<text x="206.79" y="142.46" font-size="5.7" text-anchor="end" class="t">200</text>
<text x="206.79" y="112.83" font-size="5.7" text-anchor="end" class="t">300</text>
<text x="206.79" y="83.21" font-size="5.7" text-anchor="end" class="t">400</text>
<text x="206.79" y="53.59" font-size="5.7" text-anchor="end" class="t">500</text>
<text x="206.79" y="23.96" font-size="5.7" text-anchor="end" class="t">600</text>
<text x="209.7" y="223.25" font-size="5.7" text-anchor="middle" class="t">0</text>
<text x="237.86" y="223.25" font-size="5.7" text-anchor="middle" class="t">100</text>
<text x="266.01" y="223.25" font-size="5.7" text-anchor="middle" class="t">200</text>
<text x="245.6" y="6.7" font-size="6.4" text-anchor="middle" class="b">Blue component</text>
<rect x="420.05" y="200.2" width="72.8" height="15.2" fill="url(#gr)"/>
<path d="M420.05 215.4V7.5H492.85V215.4H420.05M420.05 200.2H492.85" fill="none" stroke="#262626" stroke-width="0.55"/>
<path d="M420.05 200.2h2.41M492.85 200.2h-2.41M420.05 170.2h2.41M492.85 170.2h-2.41M420.05 140.21h2.41M492.85 140.21h-2.41M420.05 110.21h2.41M492.85 110.21h-2.41M420.05 80.21h2.41M492.85 80.21h-2.41M420.05 50.22h2.41M492.85 50.22h-2.41M420.05 20.22h2.41M492.85 20.22h-2.41M448.6 7.5v2.41M448.6 215.4v-1.08M448.6 200.2v1.08M477.15 7.5v2.41M477.15 215.4v-1.08M477.15 200.2v1.08M492.85 207.8h-1.08" fill="none" stroke="#262626" stroke-width="0.55"/>
<path d="M419.68 200.2V121.65H420.42V200.2zM419.96 200.2V122.09H420.71V200.2zM420.25 200.2V122.4H420.99V200.2zM420.54 200.2V129.11H421.28V200.2zM420.82 200.2V123.97H421.56V200.2zM421.11 200.2V124.3H421.85V200.2zM421.39 200.2V123.16H422.13V200.2zM421.68 200.2V125.44H422.42V200.2zM421.96 200.2V122.99H422.71V200.2zM422.25 200.2V124.81H422.99V200.2zM422.53 200.2V118.31H423.28V200.2zM422.82 200.2V119.09H423.56V200.2zM423.1 200.2V119.11H423.85V200.2zM423.39 200.2V115.63H424.13V200.2zM423.68 200.2V122.6H424.42V200.2zM423.96 200.2V124.51H424.7V200.2zM424.25 200.2V125.1H424.99V200.2zM424.53 200.2V129.11H425.27V200.2zM424.82 200.2V118.68H425.56V200.2zM425.1 200.2V128.82H425.85V200.2zM425.39 200.2V129.28H426.13V200.2zM425.67 200.2V129.11H426.42V200.2zM425.96 200.2V129.96H426.7V200.2zM426.25 200.2V128.36H426.99V200.2zM426.53 200.2V109.61H427.27V200.2zM426.82 200.2V125.8H427.56V200.2zM427.1 200.2V120.18H427.84V200.2zM427.39 200.2V114.71H428.13V200.2zM427.67 200.2V126.04H428.41V200.2zM427.96 200.2V123.77H428.7V200.2zM428.24 200.2V119.68H428.99V200.2zM428.53 200.2V115.25H429.27V200.2zM428.81 200.2V128.03H429.56V200.2zM429.1 200.2V125.44H429.84V200.2zM429.39 200.2V126.18H430.13V200.2zM429.67 200.2V129.11H430.41V200.2zM429.96 200.2V126.69H430.7V200.2zM430.24 200.2V102.71H430.98V200.2zM430.53 200.2V104.81H431.27V200.2zM430.81 200.2V123.36H431.56V200.2zM431.1 200.2V129.11H431.84V200.2zM431.38 200.2V120.09H432.13V200.2zM431.67 200.2V124.3H432.41V200.2zM431.95 200.2V129.11H432.7V200.2zM432.24 200.2V125.31H432.98V200.2zM432.53 200.2V125.28H433.27V200.2zM432.81 200.2V126.48H433.55V200.2zM433.1 200.2V114.11H433.84V200.2zM433.38 200.2V129.11H434.12V200.2zM433.67 200.2V123.93H434.41V200.2zM433.95 200.2V118.55H434.7V200.2zM434.24 200.2V119.23H434.98V200.2zM434.52 200.2V118.15H435.27V200.2zM434.81 200.2V118.11H435.55V200.2zM435.1 200.2V116.56H435.84V200.2zM435.38 200.2V112.31H436.12V200.2zM435.67 200.2V119.26H436.41V200.2zM435.95 200.2V129.11H436.69V200.2zM436.24 200.2V125.34H436.98V200.2zM436.52 200.2V129.11H437.27V200.2zM436.81 200.2V118.41H437.55V200.2zM437.09 200.2V117.21H437.84V200.2zM437.38 200.2V123.64H438.12V200.2zM437.66 200.2V115.36H438.41V200.2zM437.95 200.2V125.64H438.69V200.2zM438.24 200.2V122.18H438.98V200.2zM438.52 200.2V122.17H439.26V200.2zM438.81 200.2V127.28H439.55V200.2zM439.09 200.2V120.97H439.83V200.2zM439.38 200.2V115.25H440.12V200.2zM439.66 200.2V127.11H440.41V200.2zM439.95 200.2V114.11H440.69V200.2zM440.23 200.2V123.46H440.98V200.2zM440.52 200.2V115.38H441.26V200.2zM440.81 200.2V120.78H441.55V200.2zM441.09 200.2V119.97H441.83V200.2zM441.38 200.2V120.11H442.12V200.2zM441.66 200.2V121.76H442.4V200.2zM441.95 200.2V128.67H442.69V200.2zM442.23 200.2V116.96H442.97V200.2zM442.52 200.2V128.56H443.26V200.2zM442.8 200.2V121.81H443.55V200.2zM443.09 200.2V120.23H443.83V200.2zM443.37 200.2V126.33H444.12V200.2zM443.66 200.2V122.2H444.4V200.2zM443.95 200.2V99.11H444.69V200.2zM444.23 200.2V122.91H444.97V200.2zM444.52 200.2V126.54H445.26V200.2zM444.8 200.2V129.11H445.54V200.2zM445.09 200.2V126.89H445.83V200.2zM445.37 200.2V125.29H446.12V200.2zM445.66 200.2V124.98H446.4V200.2zM445.94 200.2V126.84H446.69V200.2zM446.23 200.2V121.22H446.97V200.2zM446.51 200.2V125.22H447.26V200.2zM446.8 200.2V123.27H447.54V200.2zM447.09 200.2V119.96H447.83V200.2zM447.37 200.2V114.11H448.11V200.2zM447.66 200.2V124.07H448.4V200.2zM447.94 200.2V115.25H448.68V200.2zM448.23 200.2V119.14H448.97V200.2zM448.51 200.2V128.24H449.26V200.2zM448.8 200.2V123.14H449.54V200.2zM449.08 200.2V120.44H449.83V200.2zM449.37 200.2V117.63H450.11V200.2zM449.66 200.2V122.18H450.4V200.2zM449.94 200.2V125.04H450.68V200.2zM450.23 200.2V125.88H450.97V200.2zM450.51 200.2V120.1H451.25V200.2zM450.8 200.2V121.49H451.54V200.2zM451.08 200.2V124.98H451.83V200.2zM451.37 200.2V123.6H452.11V200.2zM451.65 200.2V124.56H452.4V200.2zM451.94 200.2V119.76H452.68V200.2zM452.22 200.2V125.71H452.97V200.2zM452.51 200.2V120.77H453.25V200.2zM452.8 200.2V119.23H453.54V200.2zM453.08 200.2V114.11H453.82V200.2zM453.37 200.2V126.31H454.11V200.2zM453.65 200.2V117.16H454.39V200.2zM453.94 200.2V125.66H454.68V200.2zM454.22 200.2V121.02H454.97V200.2zM454.51 200.2V125.97H455.25V200.2zM454.79 200.2V129.11H455.54V200.2zM455.08 200.2V121.86H455.82V200.2zM455.37 200.2V121.6H456.11V200.2zM455.65 200.2V123.13H456.39V200.2zM455.94 200.2V121.65H456.68V200.2zM456.22 200.2V125.53H456.96V200.2zM456.51 200.2V125.91H457.25V200.2zM456.79 200.2V123.51H457.53V200.2zM457.08 200.2V115.25H457.82V200.2zM457.36 200.2V119.39H458.11V200.2zM457.65 200.2V124.99H458.39V200.2zM457.93 200.2V120.46H458.68V200.2zM458.22 200.2V124.82H458.96V200.2zM458.51 200.2V124.73H459.25V200.2zM458.79 200.2V113.51H459.53V200.2zM459.08 200.2V125.01H459.82V200.2zM459.36 200.2V129.11H460.1V200.2zM459.65 200.2V126.84H460.39V200.2zM459.93 200.2V126.23H460.68V200.2zM460.22 200.2V127.04H460.96V200.2zM460.5 200.2V126.07H461.25V200.2zM460.79 200.2V127.26H461.53V200.2zM461.07 200.2V119.74H461.82V200.2zM461.36 200.2V121.02H462.1V200.2zM461.65 200.2V123.43H462.39V200.2zM461.93 200.2V119.3H462.67V200.2zM462.22 200.2V120.74H462.96V200.2zM462.5 200.2V126.43H463.24V200.2zM462.79 200.2V118.31H463.53V200.2zM463.07 200.2V127.94H463.82V200.2zM463.36 200.2V122.56H464.1V200.2zM463.64 200.2V122.8H464.39V200.2zM463.93 200.2V121.02H464.67V200.2zM464.22 200.2V125.85H464.96V200.2zM464.5 200.2V122.95H465.24V200.2zM464.79 200.2V123.4H465.53V200.2zM465.07 200.2V118.62H465.81V200.2zM465.36 200.2V126.15H466.1V200.2zM465.64 200.2V122.5H466.39V200.2zM465.93 200.2V123.91H466.67V200.2zM466.21 200.2V128.26H466.96V200.2zM466.5 200.2V115.25H467.24V200.2zM466.78 200.2V115.31H467.53V200.2zM467.07 200.2V129.05H467.81V200.2zM467.36 200.2V125.76H468.1V200.2zM467.64 200.2V127.3H468.38V200.2zM467.93 200.2V126.32H468.67V200.2zM468.21 200.2V125.22H468.95V200.2zM468.5 200.2V127.49H469.24V200.2zM468.78 200.2V124.62H469.53V200.2zM469.07 200.2V125.08H469.81V200.2zM469.35 200.2V123.35H470.1V200.2zM469.64 200.2V129.11H470.38V200.2zM469.93 200.2V128H470.67V200.2zM470.21 200.2V123.4H470.95V200.2zM470.5 200.2V118.44H471.24V200.2zM470.78 200.2V120.15H471.52V200.2zM471.07 200.2V115.55H471.81V200.2zM471.35 200.2V112.01H472.09V200.2zM471.64 200.2V124.95H472.38V200.2zM471.92 200.2V123.32H472.67V200.2zM472.21 200.2V129.11H472.95V200.2zM472.49 200.2V126.84H473.24V200.2zM472.78 200.2V127.09H473.52V200.2zM473.07 200.2V121.67H473.81V200.2zM473.35 200.2V120.09H474.09V200.2zM473.64 200.2V125.16H474.38V200.2zM473.92 200.2V125.28H474.66V200.2zM474.21 200.2V129.11H474.95V200.2zM474.49 200.2V113.51H475.24V200.2zM474.78 200.2V121.77H475.52V200.2zM475.06 200.2V120.94H475.81V200.2zM475.35 200.2V126.1H476.09V200.2zM475.63 200.2V115.25H476.38V200.2zM475.92 200.2V117.79H476.66V200.2zM476.21 200.2V123.21H476.95V200.2zM476.49 200.2V125.02H477.23V200.2zM476.78 200.2V124.16H477.52V200.2zM477.06 200.2V113.51H477.8V200.2zM477.35 200.2V122.89H478.09V200.2zM477.63 200.2V120.78H478.38V200.2zM477.92 200.2V119.58H478.66V200.2zM478.2 200.2V117.07H478.95V200.2zM478.49 200.2V117.99H479.23V200.2zM478.78 200.2V123.27H479.52V200.2zM479.06 200.2V121.18H479.8V200.2zM479.35 200.2V124.43H480.09V200.2zM479.63 200.2V115.91H480.37V200.2zM479.92 200.2V115.25H480.66V200.2zM480.2 200.2V124.74H480.95V200.2zM480.49 200.2V115.25H481.23V200.2zM480.77 200.2V124.27H481.52V200.2zM481.06 200.2V121.75H481.8V200.2zM481.34 200.2V126.98H482.09V200.2zM481.63 200.2V127.3H482.37V200.2zM481.92 200.2V126.8H482.66V200.2zM482.2 200.2V126.79H482.94V200.2zM482.49 200.2V126.07H483.23V200.2zM482.77 200.2V123.5H483.51V200.2zM483.06 200.2V125.54H483.8V200.2zM483.34 200.2V126.58H484.09V200.2zM483.63 200.2V125.53H484.37V200.2zM483.91 200.2V127.21H484.66V200.2zM484.2 200.2V129.11H484.94V200.2zM484.49 200.2V125.93H485.23V200.2zM484.77 200.2V120.45H485.51V200.2zM485.06 200.2V124.04H485.8V200.2zM485.34 200.2V118.21H486.08V200.2zM485.63 200.2V120.12H486.37V200.2zM485.91 200.2V123.96H486.65V200.2zM486.2 200.2V108.41H486.94V200.2zM486.48 200.2V115.25H487.23V200.2zM486.77 200.2V121.75H487.51V200.2zM487.05 200.2V121.55H487.8V200.2zM487.34 200.2V124.66H488.08V200.2zM487.63 200.2V122.25H488.37V200.2zM487.91 200.2V128.22H488.65V200.2zM488.2 200.2V115.31H488.94V200.2zM488.48 200.2V115.25H489.22V200.2zM488.77 200.2V118.33H489.51V200.2zM489.05 200.2V120.11H489.8V200.2zM489.34 200.2V118.17H490.08V200.2zM489.62 200.2V115.25H490.37V200.2zM489.91 200.2V120.32H490.65V200.2zM490.19 200.2V115.25H490.94V200.2zM490.48 200.2V118.32H491.22V200.2zM490.77 200.2V117.41H491.51V200.2zM491.05 200.2V115.59H491.79V200.2zM491.34 200.2V129.11H492.08V200.2zM491.62 200.2V125.21H492.36V200.2zM491.91 200.2V121.69H492.65V200.2zM492.19 200.2V126.64H492.94V200.2zM492.48 200.2V123.46H493.22V200.2z" fill="#ff0000"/>
<text x="417.1" y="202.66" font-size="5.85" text-anchor="end" class="t">0</text>
<text x="417.1" y="172.66" font-size="5.85" text-anchor="end" class="t">100</text>
<text x="417.1" y="142.66" font-size="5.85" text-anchor="end" class="t">200</text>
<text x="417.1" y="112.67" font-size="5.85" text-anchor="end" class="t">300</text>
<text x="417.1" y="82.67" font-size="5.85" text-anchor="end" class="t">400</text>
<text x="417.1" y="52.67" font-size="5.85" text-anchor="end" class="t">500</text>
<text x="417.1" y="22.67" font-size="5.85" text-anchor="end" class="t">600</text>
<text x="420.05" y="224.71" font-size="5.85" text-anchor="middle" class="t">0</text>
<text x="448.6" y="224.71" font-size="5.85" text-anchor="middle" class="t">100</text>
<text x="477.15" y="224.71" font-size="5.85" text-anchor="middle" class="t">200</text>
<text x="456.45" y="4.64" font-size="6.5" text-anchor="middle" class="b">Red component</text>
<text transform="translate(404 103.85) rotate(-90)" font-size="6.7" text-anchor="middle" class="t">Distribution</text>
<rect x="515.65" y="200.2" width="72.8" height="15.2" fill="url(#gr)"/>
<path d="M515.65 215.4V7.5H588.45V215.4H515.65M515.65 200.2H588.45" fill="none" stroke="#262626" stroke-width="0.55"/>
<path d="M515.65 200.2h2.41M588.45 200.2h-2.41M515.65 170.2h2.41M588.45 170.2h-2.41M515.65 140.21h2.41M588.45 140.21h-2.41M515.65 110.21h2.41M588.45 110.21h-2.41M515.65 80.21h2.41M588.45 80.21h-2.41M515.65 50.22h2.41M588.45 50.22h-2.41M515.65 20.22h2.41M588.45 20.22h-2.41M544.2 7.5v2.41M544.2 215.4v-1.08M544.2 200.2v1.08M572.75 7.5v2.41M572.75 215.4v-1.08M572.75 200.2v1.08M588.45 207.8h-1.08" fill="none" stroke="#262626" stroke-width="0.55"/>
<path d="M515.28 200.2V121.65H516.02V200.2zM515.56 200.2V122.09H516.31V200.2zM515.85 200.2V122.4H516.59V200.2zM516.14 200.2V129.11H516.88V200.2zM516.42 200.2V123.97H517.16V200.2zM516.71 200.2V124.3H517.45V200.2zM516.99 200.2V123.16H517.73V200.2zM517.28 200.2V125.44H518.02V200.2zM517.56 200.2V122.99H518.31V200.2zM517.85 200.2V124.81H518.59V200.2zM518.13 200.2V118.31H518.88V200.2zM518.42 200.2V119.09H519.16V200.2zM518.7 200.2V119.11H519.45V200.2zM518.99 200.2V115.63H519.73V200.2zM519.28 200.2V122.6H520.02V200.2zM519.56 200.2V124.51H520.3V200.2zM519.85 200.2V125.1H520.59V200.2zM520.13 200.2V129.11H520.87V200.2zM520.42 200.2V118.68H521.16V200.2zM520.7 200.2V128.82H521.45V200.2zM520.99 200.2V129.28H521.73V200.2zM521.27 200.2V129.11H522.02V200.2zM521.56 200.2V129.96H522.3V200.2zM521.85 200.2V128.36H522.59V200.2zM522.13 200.2V109.61H522.87V200.2zM522.42 200.2V125.8H523.16V200.2zM522.7 200.2V120.18H523.44V200.2zM522.99 200.2V114.71H523.73V200.2zM523.27 200.2V126.04H524.01V200.2zM523.56 200.2V123.77H524.3V200.2zM523.84 200.2V119.68H524.59V200.2zM524.13 200.2V115.25H524.87V200.2zM524.41 200.2V128.03H525.16V200.2zM524.7 200.2V125.44H525.44V200.2zM524.99 200.2V126.18H525.73V200.2zM525.27 200.2V129.11H526.01V200.2zM525.56 200.2V126.69H526.3V200.2zM525.84 200.2V102.71H526.58V200.2zM526.13 200.2V104.81H526.87V200.2zM526.41 200.2V123.36H527.16V200.2zM526.7 200.2V129.11H527.44V200.2zM526.98 200.2V120.09H527.73V200.2zM527.27 200.2V124.3H528.01V200.2zM527.55 200.2V129.11H528.3V200.2zM527.84 200.2V125.31H528.58V200.2zM528.13 200.2V125.28H528.87V200.2zM528.41 200.2V126.48H529.15V200.2zM528.7 200.2V114.11H529.44V200.2zM528.98 200.2V129.11H529.72V200.2zM529.27 200.2V123.93H530.01V200.2zM529.55 200.2V118.55H530.3V200.2zM529.84 200.2V119.23H530.58V200.2zM530.12 200.2V118.15H530.87V200.2zM530.41 200.2V118.11H531.15V200.2zM530.7 200.2V116.56H531.44V200.2zM530.98 200.2V112.31H531.72V200.2zM531.27 200.2V119.26H532.01V200.2zM531.55 200.2V129.11H532.29V200.2zM531.84 200.2V125.34H532.58V200.2zM532.12 200.2V129.11H532.87V200.2zM532.41 200.2V118.41H533.15V200.2zM532.69 200.2V117.21H533.44V200.2zM532.98 200.2V123.64H533.72V200.2zM533.26 200.2V115.36H534.01V200.2zM533.55 200.2V125.64H534.29V200.2zM533.84 200.2V122.18H534.58V200.2zM534.12 200.2V122.17H534.86V200.2zM534.41 200.2V127.28H535.15V200.2zM534.69 200.2V120.97H535.43V200.2zM534.98 200.2V115.25H535.72V200.2zM535.26 200.2V127.11H536.01V200.2zM535.55 200.2V114.11H536.29V200.2zM535.83 200.2V123.46H536.58V200.2zM536.12 200.2V115.38H536.86V200.2zM536.41 200.2V120.78H537.15V200.2zM536.69 200.2V119.97H537.43V200.2zM536.98 200.2V120.11H537.72V200.2zM537.26 200.2V121.76H538V200.2zM537.55 200.2V128.67H538.29V200.2zM537.83 200.2V116.96H538.57V200.2zM538.12 200.2V128.56H538.86V200.2zM538.4 200.2V121.81H539.15V200.2zM538.69 200.2V120.23H539.43V200.2zM538.97 200.2V126.33H539.72V200.2zM539.26 200.2V122.2H540V200.2zM539.55 200.2V99.11H540.29V200.2zM539.83 200.2V122.91H540.57V200.2zM540.12 200.2V126.54H540.86V200.2zM540.4 200.2V129.11H541.14V200.2zM540.69 200.2V126.89H541.43V200.2zM540.97 200.2V125.29H541.72V200.2zM541.26 200.2V124.98H542V200.2zM541.54 200.2V126.84H542.29V200.2zM541.83 200.2V121.22H542.57V200.2zM542.11 200.2V125.22H542.86V200.2zM542.4 200.2V123.27H543.14V200.2zM542.69 200.2V119.96H543.43V200.2zM542.97 200.2V114.11H543.71V200.2zM543.26 200.2V124.07H544V200.2zM543.54 200.2V115.25H544.28V200.2zM543.83 200.2V119.14H544.57V200.2zM544.11 200.2V128.24H544.86V200.2zM544.4 200.2V123.14H545.14V200.2zM544.68 200.2V120.44H545.43V200.2zM544.97 200.2V117.63H545.71V200.2zM545.26 200.2V122.18H546V200.2zM545.54 200.2V125.04H546.28V200.2zM545.83 200.2V125.88H546.57V200.2zM546.11 200.2V120.1H546.85V200.2zM546.4 200.2V121.49H547.14V200.2zM546.68 200.2V124.98H547.43V200.2zM546.97 200.2V123.6H547.71V200.2zM547.25 200.2V124.56H548V200.2zM547.54 200.2V119.76H548.28V200.2zM547.82 200.2V125.71H548.57V200.2zM548.11 200.2V120.77H548.85V200.2zM548.4 200.2V119.23H549.14V200.2zM548.68 200.2V114.11H549.42V200.2zM548.97 200.2V126.31H549.71V200.2zM549.25 200.2V117.16H549.99V200.2zM549.54 200.2V125.66H550.28V200.2zM549.82 200.2V121.02H550.57V200.2zM550.11 200.2V125.97H550.85V200.2zM550.39 200.2V129.11H551.14V200.2zM550.68 200.2V121.86H551.42V200.2zM550.97 200.2V121.6H551.71V200.2zM551.25 200.2V123.13H551.99V200.2zM551.54 200.2V121.65H552.28V200.2zM551.82 200.2V125.53H552.56V200.2zM552.11 200.2V125.91H552.85V200.2zM552.39 200.2V123.51H553.13V200.2zM552.68 200.2V115.25H553.42V200.2zM552.96 200.2V119.39H553.71V200.2zM553.25 200.2V124.99H553.99V200.2zM553.53 200.2V120.46H554.28V200.2zM553.82 200.2V124.82H554.56V200.2zM554.11 200.2V124.73H554.85V200.2zM554.39 200.2V113.51H555.13V200.2zM554.68 200.2V125.01H555.42V200.2zM554.96 200.2V129.11H555.7V200.2zM555.25 200.2V126.84H555.99V200.2zM555.53 200.2V126.23H556.28V200.2zM555.82 200.2V127.04H556.56V200.2zM556.1 200.2V126.07H556.85V200.2zM556.39 200.2V127.26H557.13V200.2zM556.67 200.2V119.74H557.42V200.2zM556.96 200.2V121.02H557.7V200.2zM557.25 200.2V123.43H557.99V200.2zM557.53 200.2V119.3H558.27V200.2zM557.82 200.2V120.74H558.56V200.2zM558.1 200.2V126.43H558.84V200.2zM558.39 200.2V118.31H559.13V200.2zM558.67 200.2V127.94H559.42V200.2zM558.96 200.2V122.56H559.7V200.2zM559.24 200.2V122.8H559.99V200.2zM559.53 200.2V121.02H560.27V200.2zM559.82 200.2V125.85H560.56V200.2zM560.1 200.2V122.95H560.84V200.2zM560.39 200.2V123.4H561.13V200.2zM560.67 200.2V118.62H561.41V200.2zM560.96 200.2V126.15H561.7V200.2zM561.24 200.2V122.5H561.99V200.2zM561.53 200.2V123.91H562.27V200.2zM561.81 200.2V128.26H562.56V200.2zM562.1 200.2V115.25H562.84V200.2zM562.38 200.2V115.31H563.13V200.2zM562.67 200.2V129.05H563.41V200.2zM562.96 200.2V125.76H563.7V200.2zM563.24 200.2V127.3H563.98V200.2zM563.53 200.2V126.32H564.27V200.2zM563.81 200.2V125.22H564.55V200.2zM564.1 200.2V127.49H564.84V200.2zM564.38 200.2V124.62H565.13V200.2zM564.67 200.2V125.08H565.41V200.2zM564.95 200.2V123.35H565.7V200.2zM565.24 200.2V129.11H565.98V200.2zM565.53 200.2V128H566.27V200.2zM565.81 200.2V123.4H566.55V200.2zM566.1 200.2V118.44H566.84V200.2zM566.38 200.2V120.15H567.12V200.2zM566.67 200.2V115.55H567.41V200.2zM566.95 200.2V112.01H567.69V200.2zM567.24 200.2V124.95H567.98V200.2zM567.52 200.2V123.32H568.27V200.2zM567.81 200.2V129.11H568.55V200.2zM568.09 200.2V126.84H568.84V200.2zM568.38 200.2V127.09H569.12V200.2zM568.67 200.2V121.67H569.41V200.2zM568.95 200.2V120.09H569.69V200.2zM569.24 200.2V125.16H569.98V200.2zM569.52 200.2V125.28H570.26V200.2zM569.81 200.2V129.11H570.55V200.2zM570.09 200.2V113.51H570.84V200.2zM570.38 200.2V121.77H571.12V200.2zM570.66 200.2V120.94H571.41V200.2zM570.95 200.2V126.1H571.69V200.2zM571.23 200.2V115.25H571.98V200.2zM571.52 200.2V117.79H572.26V200.2zM571.81 200.2V123.21H572.55V200.2zM572.09 200.2V125.02H572.83V200.2zM572.38 200.2V124.16H573.12V200.2zM572.66 200.2V113.51H573.4V200.2zM572.95 200.2V122.89H573.69V200.2zM573.23 200.2V120.78H573.98V200.2zM573.52 200.2V119.58H574.26V200.2zM573.8 200.2V117.07H574.55V200.2zM574.09 200.2V117.99H574.83V200.2zM574.38 200.2V123.27H575.12V200.2zM574.66 200.2V121.18H575.4V200.2zM574.95 200.2V124.43H575.69V200.2zM575.23 200.2V115.91H575.97V200.2zM575.52 200.2V115.25H576.26V200.2zM575.8 200.2V124.74H576.55V200.2zM576.09 200.2V115.25H576.83V200.2zM576.37 200.2V124.27H577.12V200.2zM576.66 200.2V121.75H577.4V200.2zM576.94 200.2V126.98H577.69V200.2zM577.23 200.2V127.3H577.97V200.2zM577.52 200.2V126.8H578.26V200.2zM577.8 200.2V126.79H578.54V200.2zM578.09 200.2V126.07H578.83V200.2zM578.37 200.2V123.5H579.11V200.2zM578.66 200.2V125.54H579.4V200.2zM578.94 200.2V126.58H579.69V200.2zM579.23 200.2V125.53H579.97V200.2zM579.51 200.2V127.21H580.26V200.2zM579.8 200.2V129.11H580.54V200.2zM580.09 200.2V125.93H580.83V200.2zM580.37 200.2V120.45H581.11V200.2zM580.66 200.2V124.04H581.4V200.2zM580.94 200.2V118.21H581.68V200.2zM581.23 200.2V120.12H581.97V200.2zM581.51 200.2V123.96H582.25V200.2zM581.8 200.2V108.41H582.54V200.2zM582.08 200.2V115.25H582.83V200.2zM582.37 200.2V121.75H583.11V200.2zM582.65 200.2V121.55H583.4V200.2zM582.94 200.2V124.66H583.68V200.2zM583.23 200.2V122.25H583.97V200.2zM583.51 200.2V128.22H584.25V200.2zM583.8 200.2V115.31H584.54V200.2zM584.08 200.2V115.25H584.82V200.2zM584.37 200.2V118.33H585.11V200.2zM584.65 200.2V120.11H585.4V200.2zM584.94 200.2V118.17H585.68V200.2zM585.22 200.2V115.25H585.97V200.2zM585.51 200.2V120.32H586.25V200.2zM585.79 200.2V115.25H586.54V200.2zM586.08 200.2V118.32H586.82V200.2zM586.37 200.2V117.41H587.11V200.2zM586.65 200.2V115.59H587.39V200.2zM586.94 200.2V129.11H587.68V200.2zM587.22 200.2V125.21H587.96V200.2zM587.51 200.2V121.69H588.25V200.2zM587.79 200.2V126.64H588.54V200.2zM588.08 200.2V123.46H588.82V200.2z" fill="#00ff00"/>
<text x="512.7" y="202.66" font-size="5.85" text-anchor="end" class="t">0</text>
<text x="512.7" y="172.66" font-size="5.85" text-anchor="end" class="t">100</text>
<text x="512.7" y="142.66" font-size="5.85" text-anchor="end" class="t">200</text>
<text x="512.7" y="112.67" font-size="5.85" text-anchor="end" class="t">300</text>
<text x="512.7" y="82.67" font-size="5.85" text-anchor="end" class="t">400</text>
<text x="512.7" y="52.67" font-size="5.85" text-anchor="end" class="t">500</text>
<text x="512.7" y="22.67" font-size="5.85" text-anchor="end" class="t">600</text>
<text x="515.65" y="224.71" font-size="5.85" text-anchor="middle" class="t">0</text>
<text x="544.2" y="224.71" font-size="5.85" text-anchor="middle" class="t">100</text>
<text x="572.75" y="224.71" font-size="5.85" text-anchor="middle" class="t">200</text>
<text x="552.05" y="4.64" font-size="6.5" text-anchor="middle" class="b">Green component</text>
<rect x="611.3" y="200.2" width="72.8" height="15.2" fill="url(#gr)"/>
<path d="M611.3 215.4V7.5H684.1V215.4H611.3M611.3 200.2H684.1" fill="none" stroke="#262626" stroke-width="0.55"/>
<path d="M611.3 200.2h2.41M684.1 200.2h-2.41M611.3 170.2h2.41M684.1 170.2h-2.41M611.3 140.21h2.41M684.1 140.21h-2.41M611.3 110.21h2.41M684.1 110.21h-2.41M611.3 80.21h2.41M684.1 80.21h-2.41M611.3 50.22h2.41M684.1 50.22h-2.41M611.3 20.22h2.41M684.1 20.22h-2.41M639.85 7.5v2.41M639.85 215.4v-1.08M639.85 200.2v1.08M668.4 7.5v2.41M668.4 215.4v-1.08M668.4 200.2v1.08M684.1 207.8h-1.08" fill="none" stroke="#262626" stroke-width="0.55"/>
<path d="M610.93 200.2V121.65H611.67V200.2zM611.21 200.2V122.09H611.96V200.2zM611.5 200.2V122.4H612.24V200.2zM611.79 200.2V129.11H612.53V200.2zM612.07 200.2V123.97H612.81V200.2zM612.36 200.2V124.3H613.1V200.2zM612.64 200.2V123.16H613.38V200.2zM612.93 200.2V125.44H613.67V200.2zM613.21 200.2V122.99H613.96V200.2zM613.5 200.2V124.81H614.24V200.2zM613.78 200.2V118.31H614.53V200.2zM614.07 200.2V119.09H614.81V200.2zM614.35 200.2V119.11H615.1V200.2zM614.64 200.2V115.63H615.38V200.2zM614.93 200.2V122.6H615.67V200.2zM615.21 200.2V124.51H615.95V200.2zM615.5 200.2V125.1H616.24V200.2zM615.78 200.2V129.11H616.52V200.2zM616.07 200.2V118.68H616.81V200.2zM616.35 200.2V128.82H617.1V200.2zM616.64 200.2V129.28H617.38V200.2zM616.92 200.2V129.11H617.67V200.2zM617.21 200.2V129.96H617.95V200.2zM617.5 200.2V128.36H618.24V200.2zM617.78 200.2V109.61H618.52V200.2zM618.07 200.2V125.8H618.81V200.2zM618.35 200.2V120.18H619.09V200.2zM618.64 200.2V114.71H619.38V200.2zM618.92 200.2V126.04H619.66V200.2zM619.21 200.2V123.77H619.95V200.2zM619.49 200.2V119.68H620.24V200.2zM619.78 200.2V115.25H620.52V200.2zM620.06 200.2V128.03H620.81V200.2zM620.35 200.2V125.44H621.09V200.2zM620.64 200.2V126.18H621.38V200.2zM620.92 200.2V129.11H621.66V200.2zM621.21 200.2V126.69H621.95V200.2zM621.49 200.2V102.71H622.23V200.2zM621.78 200.2V104.81H622.52V200.2zM622.06 200.2V123.36H622.81V200.2zM622.35 200.2V129.11H623.09V200.2zM622.63 200.2V120.09H623.38V200.2zM622.92 200.2V124.3H623.66V200.2zM623.2 200.2V129.11H623.95V200.2zM623.49 200.2V125.31H624.23V200.2zM623.78 200.2V125.28H624.52V200.2zM624.06 200.2V126.48H624.8V200.2zM624.35 200.2V114.11H625.09V200.2zM624.63 200.2V129.11H625.37V200.2zM624.92 200.2V123.93H625.66V200.2zM625.2 200.2V118.55H625.95V200.2zM625.49 200.2V119.23H626.23V200.2zM625.77 200.2V118.15H626.52V200.2zM626.06 200.2V118.11H626.8V200.2zM626.35 200.2V116.56H627.09V200.2zM626.63 200.2V112.31H627.37V200.2zM626.92 200.2V119.26H627.66V200.2zM627.2 200.2V129.11H627.94V200.2zM627.49 200.2V125.34H628.23V200.2zM627.77 200.2V129.11H628.52V200.2zM628.06 200.2V118.41H628.8V200.2zM628.34 200.2V117.21H629.09V200.2zM628.63 200.2V123.64H629.37V200.2zM628.91 200.2V115.36H629.66V200.2zM629.2 200.2V125.64H629.94V200.2zM629.49 200.2V122.18H630.23V200.2zM629.77 200.2V122.17H630.51V200.2zM630.06 200.2V127.28H630.8V200.2zM630.34 200.2V120.97H631.08V200.2zM630.63 200.2V115.25H631.37V200.2zM630.91 200.2V127.11H631.66V200.2zM631.2 200.2V114.11H631.94V200.2zM631.48 200.2V123.46H632.23V200.2zM631.77 200.2V115.38H632.51V200.2zM632.06 200.2V120.78H632.8V200.2zM632.34 200.2V119.97H633.08V200.2zM632.63 200.2V120.11H633.37V200.2zM632.91 200.2V121.76H633.65V200.2zM633.2 200.2V128.67H633.94V200.2zM633.48 200.2V116.96H634.22V200.2zM633.77 200.2V128.56H634.51V200.2zM634.05 200.2V121.81H634.8V200.2zM634.34 200.2V120.23H635.08V200.2zM634.62 200.2V126.33H635.37V200.2zM634.91 200.2V122.2H635.65V200.2zM635.2 200.2V99.11H635.94V200.2zM635.48 200.2V122.91H636.22V200.2zM635.77 200.2V126.54H636.51V200.2zM636.05 200.2V129.11H636.79V200.2zM636.34 200.2V126.89H637.08V200.2zM636.62 200.2V125.29H637.37V200.2zM636.91 200.2V124.98H637.65V200.2zM637.19 200.2V126.84H637.94V200.2zM637.48 200.2V121.22H638.22V200.2zM637.76 200.2V125.22H638.51V200.2zM638.05 200.2V123.27H638.79V200.2zM638.34 200.2V119.96H639.08V200.2zM638.62 200.2V114.11H639.36V200.2zM638.91 200.2V124.07H639.65V200.2zM639.19 200.2V115.25H639.93V200.2zM639.48 200.2V119.14H640.22V200.2zM639.76 200.2V128.24H640.51V200.2zM640.05 200.2V123.14H640.79V200.2zM640.33 200.2V120.44H641.08V200.2zM640.62 200.2V117.63H641.36V200.2zM640.91 200.2V122.18H641.65V200.2zM641.19 200.2V125.04H641.93V200.2zM641.48 200.2V125.88H642.22V200.2zM641.76 200.2V120.1H642.5V200.2zM642.05 200.2V121.49H642.79V200.2zM642.33 200.2V124.98H643.08V200.2zM642.62 200.2V123.6H643.36V200.2zM642.9 200.2V124.56H643.65V200.2zM643.19 200.2V119.76H643.93V200.2zM643.47 200.2V125.71H644.22V200.2zM643.76 200.2V120.77H644.5V200.2zM644.05 200.2V119.23H644.79V200.2zM644.33 200.2V114.11H645.07V200.2zM644.62 200.2V126.31H645.36V200.2zM644.9 200.2V117.16H645.64V200.2zM645.19 200.2V125.66H645.93V200.2zM645.47 200.2V121.02H646.22V200.2zM645.76 200.2V125.97H646.5V200.2zM646.04 200.2V129.11H646.79V200.2zM646.33 200.2V121.86H647.07V200.2zM646.62 200.2V121.6H647.36V200.2zM646.9 200.2V123.13H647.64V200.2zM647.19 200.2V121.65H647.93V200.2zM647.47 200.2V125.53H648.21V200.2zM647.76 200.2V125.91H648.5V200.2zM648.04 200.2V123.51H648.78V200.2zM648.33 200.2V115.25H649.07V200.2zM648.61 200.2V119.39H649.36V200.2zM648.9 200.2V124.99H649.64V200.2zM649.18 200.2V120.46H649.93V200.2zM649.47 200.2V124.82H650.21V200.2zM649.76 200.2V124.73H650.5V200.2zM650.04 200.2V113.51H650.78V200.2zM650.33 200.2V125.01H651.07V200.2zM650.61 200.2V129.11H651.35V200.2zM650.9 200.2V126.84H651.64V200.2zM651.18 200.2V126.23H651.93V200.2zM651.47 200.2V127.04H652.21V200.2zM651.75 200.2V126.07H652.5V200.2zM652.04 200.2V127.26H652.78V200.2zM652.32 200.2V119.74H653.07V200.2zM652.61 200.2V121.02H653.35V200.2zM652.9 200.2V123.43H653.64V200.2zM653.18 200.2V119.3H653.92V200.2zM653.47 200.2V120.74H654.21V200.2zM653.75 200.2V126.43H654.49V200.2zM654.04 200.2V118.31H654.78V200.2zM654.32 200.2V127.94H655.07V200.2zM654.61 200.2V122.56H655.35V200.2zM654.89 200.2V122.8H655.64V200.2zM655.18 200.2V121.02H655.92V200.2zM655.47 200.2V125.85H656.21V200.2zM655.75 200.2V122.95H656.49V200.2zM656.04 200.2V123.4H656.78V200.2zM656.32 200.2V118.62H657.06V200.2zM656.61 200.2V126.15H657.35V200.2zM656.89 200.2V122.5H657.64V200.2zM657.18 200.2V123.91H657.92V200.2zM657.46 200.2V128.26H658.21V200.2zM657.75 200.2V115.25H658.49V200.2zM658.03 200.2V115.31H658.78V200.2zM658.32 200.2V129.05H659.06V200.2zM658.61 200.2V125.76H659.35V200.2zM658.89 200.2V127.3H659.63V200.2zM659.18 200.2V126.32H659.92V200.2zM659.46 200.2V125.22H660.2V200.2zM659.75 200.2V127.49H660.49V200.2zM660.03 200.2V124.62H660.78V200.2zM660.32 200.2V125.08H661.06V200.2zM660.6 200.2V123.35H661.35V200.2zM660.89 200.2V129.11H661.63V200.2zM661.18 200.2V128H661.92V200.2zM661.46 200.2V123.4H662.2V200.2zM661.75 200.2V118.44H662.49V200.2zM662.03 200.2V120.15H662.77V200.2zM662.32 200.2V115.55H663.06V200.2zM662.6 200.2V112.01H663.34V200.2zM662.89 200.2V124.95H663.63V200.2zM663.17 200.2V123.32H663.92V200.2zM663.46 200.2V129.11H664.2V200.2zM663.74 200.2V126.84H664.49V200.2zM664.03 200.2V127.09H664.77V200.2zM664.32 200.2V121.67H665.06V200.2zM664.6 200.2V120.09H665.34V200.2zM664.89 200.2V125.16H665.63V200.2zM665.17 200.2V125.28H665.91V200.2zM665.46 200.2V129.11H666.2V200.2zM665.74 200.2V113.51H666.49V200.2zM666.03 200.2V121.77H666.77V200.2zM666.31 200.2V120.94H667.06V200.2zM666.6 200.2V126.1H667.34V200.2zM666.88 200.2V115.25H667.63V200.2zM667.17 200.2V117.79H667.91V200.2zM667.46 200.2V123.21H668.2V200.2zM667.74 200.2V125.02H668.48V200.2zM668.03 200.2V124.16H668.77V200.2zM668.31 200.2V113.51H669.05V200.2zM668.6 200.2V122.89H669.34V200.2zM668.88 200.2V120.78H669.63V200.2zM669.17 200.2V119.58H669.91V200.2zM669.45 200.2V117.07H670.2V200.2zM669.74 200.2V117.99H670.48V200.2zM670.03 200.2V123.27H670.77V200.2zM670.31 200.2V121.18H671.05V200.2zM670.6 200.2V124.43H671.34V200.2zM670.88 200.2V115.91H671.62V200.2zM671.17 200.2V115.25H671.91V200.2zM671.45 200.2V124.74H672.2V200.2zM671.74 200.2V115.25H672.48V200.2zM672.02 200.2V124.27H672.77V200.2zM672.31 200.2V121.75H673.05V200.2zM672.59 200.2V126.98H673.34V200.2zM672.88 200.2V127.3H673.62V200.2zM673.17 200.2V126.8H673.91V200.2zM673.45 200.2V126.79H674.19V200.2zM673.74 200.2V126.07H674.48V200.2zM674.02 200.2V123.5H674.76V200.2zM674.31 200.2V125.54H675.05V200.2zM674.59 200.2V126.58H675.34V200.2zM674.88 200.2V125.53H675.62V200.2zM675.16 200.2V127.21H675.91V200.2zM675.45 200.2V129.11H676.19V200.2zM675.74 200.2V125.93H676.48V200.2zM676.02 200.2V120.45H676.76V200.2zM676.31 200.2V124.04H677.05V200.2zM676.59 200.2V118.21H677.33V200.2zM676.88 200.2V120.12H677.62V200.2zM677.16 200.2V123.96H677.9V200.2zM677.45 200.2V108.41H678.19V200.2zM677.73 200.2V115.25H678.48V200.2zM678.02 200.2V121.75H678.76V200.2zM678.3 200.2V121.55H679.05V200.2zM678.59 200.2V124.66H679.33V200.2zM678.88 200.2V122.25H679.62V200.2zM679.16 200.2V128.22H679.9V200.2zM679.45 200.2V115.31H680.19V200.2zM679.73 200.2V115.25H680.47V200.2zM680.02 200.2V118.33H680.76V200.2zM680.3 200.2V120.11H681.05V200.2zM680.59 200.2V118.17H681.33V200.2zM680.87 200.2V115.25H681.62V200.2zM681.16 200.2V120.32H681.9V200.2zM681.44 200.2V115.25H682.19V200.2zM681.73 200.2V118.32H682.47V200.2zM682.02 200.2V117.41H682.76V200.2zM682.3 200.2V115.59H683.04V200.2zM682.59 200.2V129.11H683.33V200.2zM682.87 200.2V125.21H683.61V200.2zM683.16 200.2V121.69H683.9V200.2zM683.44 200.2V126.64H684.19V200.2zM683.73 200.2V123.46H684.47V200.2z" fill="#0000ff"/>
<text x="608.35" y="202.66" font-size="5.85" text-anchor="end" class="t">0</text>
<text x="608.35" y="172.66" font-size="5.85" text-anchor="end" class="t">100</text>
<text x="608.35" y="142.66" font-size="5.85" text-anchor="end" class="t">200</text>
<text x="608.35" y="112.67" font-size="5.85" text-anchor="end" class="t">300</text>
<text x="608.35" y="82.67" font-size="5.85" text-anchor="end" class="t">400</text>
<text x="608.35" y="52.67" font-size="5.85" text-anchor="end" class="t">500</text>
<text x="608.35" y="22.67" font-size="5.85" text-anchor="end" class="t">600</text>
<text x="611.3" y="224.71" font-size="5.85" text-anchor="middle" class="t">0</text>
<text x="639.85" y="224.71" font-size="5.85" text-anchor="middle" class="t">100</text>
<text x="668.4" y="224.71" font-size="5.85" text-anchor="middle" class="t">200</text>
<text x="647.7" y="4.64" font-size="6.5" text-anchor="middle" class="b">Blue component</text>
<rect x="201.5" y="539.45" width="83.95" height="17.85" fill="url(#gr)"/>
<path d="M201.5 557.3V317.5H285.45V557.3H201.5M201.5 539.45H285.45" fill="none" stroke="#262626" stroke-width="0.6"/>
<path d="M201.5 539.45h2.77M285.45 539.45h-2.77M201.5 505.3h2.77M285.45 505.3h-2.77M201.5 471.16h2.77M285.45 471.16h-2.77M201.5 437.01h2.77M285.45 437.01h-2.77M201.5 402.87h2.77M285.45 402.87h-2.77M201.5 368.72h2.77M285.45 368.72h-2.77M201.5 334.57h2.77M285.45 334.57h-2.77M234.42 317.5v2.77M234.42 557.3v-1.25M234.42 539.45v1.25M267.34 317.5v2.77M267.34 557.3v-1.25M267.34 539.45v1.25M285.45 548.38h-1.25" fill="none" stroke="#262626" stroke-width="0.6"/>
<path d="M201.14 539.45V441.4H201.86V539.45zM201.47 539.45V447.46H202.19V539.45zM201.8 539.45V411.06H202.52V539.45zM202.13 539.45V446.84H202.85V539.45zM202.45 539.45V444H203.18V539.45zM202.78 539.45V432.44H203.51V539.45zM203.11 539.45V452.01H203.84V539.45zM203.44 539.45V449.51H204.17V539.45zM203.77 539.45V443.39H204.5V539.45zM204.1 539.45V423.35H204.83V539.45zM204.43 539.45V454.23H205.15V539.45zM204.76 539.45V446.47H205.48V539.45zM205.09 539.45V447.68H205.81V539.45zM205.42 539.45V440.13H206.14V539.45zM205.75 539.45V457.94H206.47V539.45zM206.08 539.45V450.36H206.8V539.45zM206.41 539.45V435.82H207.13V539.45zM206.73 539.45V431.55H207.46V539.45zM207.06 539.45V456.73H207.79V539.45zM207.39 539.45V439.8H208.12V539.45zM207.72 539.45V452.57H208.45V539.45zM208.05 539.45V451.59H208.78V539.45zM208.38 539.45V451.71H209.1V539.45zM208.71 539.45V448.18H209.43V539.45zM209.04 539.45V437.04H209.76V539.45zM209.37 539.45V439.27H210.09V539.45zM209.7 539.45V444.4H210.42V539.45zM210.03 539.45V447.72H210.75V539.45zM210.36 539.45V444.84H211.08V539.45zM210.69 539.45V445.7H211.41V539.45zM211.01 539.45V438.64H211.74V539.45zM211.34 539.45V449.83H212.07V539.45zM211.67 539.45V444.91H212.4V539.45zM212 539.45V445.66H212.73V539.45zM212.33 539.45V445.28H213.06V539.45zM212.66 539.45V442.91H213.38V539.45zM212.99 539.45V431.55H213.71V539.45zM213.32 539.45V434.38H214.04V539.45zM213.65 539.45V445.55H214.37V539.45zM213.98 539.45V432.6H214.7V539.45zM214.31 539.45V447.27H215.03V539.45zM214.64 539.45V448.62H215.36V539.45zM214.96 539.45V444.07H215.69V539.45zM215.29 539.45V442.07H216.02V539.45zM215.62 539.45V442.75H216.35V539.45zM215.95 539.45V434.72H216.68V539.45zM216.28 539.45V435.92H217.01V539.45zM216.61 539.45V440.98H217.34V539.45zM216.94 539.45V447.51H217.66V539.45zM217.27 539.45V426.43H217.99V539.45zM217.6 539.45V433.76H218.32V539.45zM217.93 539.45V443.13H218.65V539.45zM218.26 539.45V455.16H218.98V539.45zM218.59 539.45V450.28H219.31V539.45zM218.92 539.45V449.4H219.64V539.45zM219.24 539.45V435.82H219.97V539.45zM219.57 539.45V421.99H220.3V539.45zM219.9 539.45V429.94H220.63V539.45zM220.23 539.45V439.71H220.96V539.45zM220.56 539.45V443.88H221.29V539.45zM220.89 539.45V448.29H221.62V539.45zM221.22 539.45V437.23H221.94V539.45zM221.55 539.45V446.76H222.27V539.45zM221.88 539.45V451.34H222.6V539.45zM222.21 539.45V440.4H222.93V539.45zM222.54 539.45V444.76H223.26V539.45zM222.87 539.45V435.53H223.59V539.45zM223.2 539.45V445.44H223.92V539.45zM223.52 539.45V418.91H224.25V539.45zM223.85 539.45V438.67H224.58V539.45zM224.18 539.45V459.61H224.91V539.45zM224.51 539.45V432.78H225.24V539.45zM224.84 539.45V430.56H225.57V539.45zM225.17 539.45V448.22H225.89V539.45zM225.5 539.45V454.01H226.22V539.45zM225.83 539.45V455.84H226.55V539.45zM226.16 539.45V438.01H226.88V539.45zM226.49 539.45V446.45H227.21V539.45zM226.82 539.45V449.56H227.54V539.45zM227.15 539.45V446.78H227.87V539.45zM227.48 539.45V429.94H228.2V539.45zM227.8 539.45V442.14H228.53V539.45zM228.13 539.45V439.01H228.86V539.45zM228.46 539.45V438.76H229.19V539.45zM228.79 539.45V436.87H229.52V539.45zM229.12 539.45V436.53H229.85V539.45zM229.45 539.45V450.44H230.17V539.45zM229.78 539.45V446.56H230.5V539.45zM230.11 539.45V407.99H230.83V539.45zM230.44 539.45V450.45H231.16V539.45zM230.77 539.45V435.9H231.49V539.45zM231.1 539.45V448.81H231.82V539.45zM231.43 539.45V445.49H232.15V539.45zM231.75 539.45V450.31H232.48V539.45zM232.08 539.45V449.53H232.81V539.45zM232.41 539.45V438.67H233.14V539.45zM232.74 539.45V448.36H233.47V539.45zM233.07 539.45V448.65H233.8V539.45zM233.4 539.45V440.99H234.13V539.45zM233.73 539.45V440.93H234.45V539.45zM234.06 539.45V438.64H234.78V539.45zM234.39 539.45V443.52H235.11V539.45zM234.72 539.45V425.74H235.44V539.45zM235.05 539.45V439.92H235.77V539.45zM235.38 539.45V440.95H236.1V539.45zM235.71 539.45V436.87H236.43V539.45zM236.03 539.45V451.51H236.76V539.45zM236.36 539.45V429.94H237.09V539.45zM236.69 539.45V454.54H237.42V539.45zM237.02 539.45V439.16H237.75V539.45zM237.35 539.45V444.5H238.08V539.45zM237.68 539.45V448.69H238.41V539.45zM238.01 539.45V438.46H238.73V539.45zM238.34 539.45V432.57H239.06V539.45zM238.67 539.45V462.14H239.39V539.45zM239 539.45V454.03H239.72V539.45zM239.33 539.45V441.27H240.05V539.45zM239.66 539.45V429.94H240.38V539.45zM239.99 539.45V456.5H240.71V539.45zM240.31 539.45V445H241.04V539.45zM240.64 539.45V433.47H241.37V539.45zM240.97 539.45V440.1H241.7V539.45zM241.3 539.45V447.82H242.03V539.45zM241.63 539.45V456.03H242.36V539.45zM241.96 539.45V430.18H242.68V539.45zM242.29 539.45V450.74H243.01V539.45zM242.62 539.45V447.76H243.34V539.45zM242.95 539.45V462.14H243.67V539.45zM243.28 539.45V458.17H244V539.45zM243.61 539.45V442.48H244.33V539.45zM243.94 539.45V448.08H244.66V539.45zM244.27 539.45V450.79H244.99V539.45zM244.59 539.45V448.07H245.32V539.45zM244.92 539.45V451.25H245.65V539.45zM245.25 539.45V437.58H245.98V539.45zM245.58 539.45V431.99H246.31V539.45zM245.91 539.45V430.18H246.64V539.45zM246.24 539.45V439.29H246.96V539.45zM246.57 539.45V439H247.29V539.45zM246.9 539.45V433.37H247.62V539.45zM247.23 539.45V431.21H247.95V539.45zM247.56 539.45V433.36H248.28V539.45zM247.89 539.45V435.34H248.61V539.45zM248.22 539.45V449.85H248.94V539.45zM248.54 539.45V457.43H249.27V539.45zM248.87 539.45V437.98H249.6V539.45zM249.2 539.45V445.6H249.93V539.45zM249.53 539.45V445.3H250.26V539.45zM249.86 539.45V451.85H250.59V539.45zM250.19 539.45V455.08H250.92V539.45zM250.52 539.45V433.85H251.24V539.45zM250.85 539.45V441.21H251.57V539.45zM251.18 539.45V453.23H251.9V539.45zM251.51 539.45V433.6H252.23V539.45zM251.84 539.45V442.47H252.56V539.45zM252.17 539.45V440.77H252.89V539.45zM252.5 539.45V429.94H253.22V539.45zM252.82 539.45V445.14H253.55V539.45zM253.15 539.45V454.91H253.88V539.45zM253.48 539.45V444.58H254.21V539.45zM253.81 539.45V449.94H254.54V539.45zM254.14 539.45V427.79H254.87V539.45zM254.47 539.45V443.21H255.2V539.45zM254.8 539.45V442.14H255.52V539.45zM255.13 539.45V449.32H255.85V539.45zM255.46 539.45V441.62H256.18V539.45zM255.79 539.45V448.87H256.51V539.45zM256.12 539.45V440.8H256.84V539.45zM256.45 539.45V447.23H257.17V539.45zM256.78 539.45V453.65H257.5V539.45zM257.1 539.45V440.95H257.83V539.45zM257.43 539.45V450.41H258.16V539.45zM257.76 539.45V433.53H258.49V539.45zM258.09 539.45V441.39H258.82V539.45zM258.42 539.45V441.19H259.15V539.45zM258.75 539.45V444.07H259.47V539.45zM259.08 539.45V445.33H259.8V539.45zM259.41 539.45V462.14H260.13V539.45zM259.74 539.45V435.27H260.46V539.45zM260.07 539.45V421.3H260.79V539.45zM260.4 539.45V437.36H261.12V539.45zM260.73 539.45V449.88H261.45V539.45zM261.06 539.45V445.99H261.78V539.45zM261.38 539.45V446.63H262.11V539.45zM261.71 539.45V453.02H262.44V539.45zM262.04 539.45V446.21H262.77V539.45zM262.37 539.45V410.72H263.1V539.45zM262.7 539.45V448.12H263.43V539.45zM263.03 539.45V454.79H263.75V539.45zM263.36 539.45V449.37H264.08V539.45zM263.69 539.45V442.9H264.41V539.45zM264.02 539.45V435.86H264.74V539.45zM264.35 539.45V438.3H265.07V539.45zM264.68 539.45V442.61H265.4V539.45zM265.01 539.45V452.68H265.73V539.45zM265.33 539.45V437.74H266.06V539.45zM265.66 539.45V444.68H266.39V539.45zM265.99 539.45V432.23H266.72V539.45zM266.32 539.45V437.72H267.05V539.45zM266.65 539.45V440.01H267.38V539.45zM266.98 539.45V440.94H267.71V539.45zM267.31 539.45V453.91H268.03V539.45zM267.64 539.45V449.66H268.36V539.45zM267.97 539.45V458.25H268.69V539.45zM268.3 539.45V443.34H269.02V539.45zM268.63 539.45V444.64H269.35V539.45zM268.96 539.45V437.54H269.68V539.45zM269.29 539.45V443.2H270.01V539.45zM269.61 539.45V447.75H270.34V539.45zM269.94 539.45V429.94H270.67V539.45zM270.27 539.45V452.95H271V539.45zM270.6 539.45V455.36H271.33V539.45zM270.93 539.45V449.66H271.66V539.45zM271.26 539.45V440.74H271.99V539.45zM271.59 539.45V447.61H272.31V539.45zM271.92 539.45V448.33H272.64V539.45zM272.25 539.45V433.26H272.97V539.45zM272.58 539.45V433.3H273.3V539.45zM272.91 539.45V449.76H273.63V539.45zM273.24 539.45V453.35H273.96V539.45zM273.57 539.45V445.83H274.29V539.45zM273.89 539.45V451.21H274.62V539.45zM274.22 539.45V446.69H274.95V539.45zM274.55 539.45V434.38H275.28V539.45zM274.88 539.45V448.37H275.61V539.45zM275.21 539.45V445.26H275.94V539.45zM275.54 539.45V447.76H276.26V539.45zM275.87 539.45V446.37H276.59V539.45zM276.2 539.45V438.43H276.92V539.45zM276.53 539.45V440.69H277.25V539.45zM276.86 539.45V447.55H277.58V539.45zM277.19 539.45V423.35H277.91V539.45zM277.52 539.45V445.92H278.24V539.45zM277.85 539.45V438.33H278.57V539.45zM278.17 539.45V445H278.9V539.45zM278.5 539.45V445.87H279.23V539.45zM278.83 539.45V459.06H279.56V539.45zM279.16 539.45V437.06H279.89V539.45zM279.49 539.45V456.58H280.22V539.45zM279.82 539.45V454.93H280.54V539.45zM280.15 539.45V423.35H280.87V539.45zM280.48 539.45V444.59H281.2V539.45zM280.81 539.45V444.51H281.53V539.45zM281.14 539.45V450.86H281.86V539.45zM281.47 539.45V447.32H282.19V539.45zM281.8 539.45V449.63H282.52V539.45zM282.12 539.45V459.08H282.85V539.45zM282.45 539.45V446.87H283.18V539.45zM282.78 539.45V450.31H283.51V539.45zM283.11 539.45V441.57H283.84V539.45zM283.44 539.45V446.01H284.17V539.45zM283.77 539.45V437.3H284.5V539.45zM284.1 539.45V431.55H284.82V539.45zM284.43 539.45V437.8H285.15V539.45zM284.76 539.45V435.38H285.48V539.45zM285.09 539.45V439.42H285.81V539.45z" fill="#ff0000"/>
<text x="198.1" y="542.25" font-size="6.8" text-anchor="end" class="t">0</text>
<text x="198.1" y="508.1" font-size="6.8" text-anchor="end" class="t">100</text>
<text x="198.1" y="473.96" font-size="6.8" text-anchor="end" class="t">200</text>
<text x="198.1" y="439.81" font-size="6.8" text-anchor="end" class="t">300</text>
<text x="198.1" y="405.66" font-size="6.8" text-anchor="end" class="t">400</text>
<text x="198.1" y="371.52" font-size="6.8" text-anchor="end" class="t">500</text>
<text x="198.1" y="337.37" font-size="6.8" text-anchor="end" class="t">600</text>
<text x="201.5" y="567.65" font-size="6.8" text-anchor="middle" class="t">0</text>
<text x="234.42" y="567.65" font-size="6.8" text-anchor="middle" class="t">100</text>
<text x="267.34" y="567.65" font-size="6.8" text-anchor="middle" class="t">200</text>
<text x="243.47" y="314.72" font-size="7.55" text-anchor="middle" class="b">Red component</text>
<text transform="translate(182.7 428.48) rotate(-90)" font-size="7.7" text-anchor="middle" class="t">Distribution</text>
<rect x="311.5" y="539.45" width="83.95" height="17.85" fill="url(#gr)"/>
<path d="M311.5 557.3V317.5H395.45V557.3H311.5M311.5 539.45H395.45" fill="none" stroke="#262626" stroke-width="0.6"/>
<path d="M311.5 539.45h2.77M395.45 539.45h-2.77M311.5 505.3h2.77M395.45 505.3h-2.77M311.5 471.16h2.77M395.45 471.16h-2.77M311.5 437.01h2.77M395.45 437.01h-2.77M311.5 402.87h2.77M395.45 402.87h-2.77M311.5 368.72h2.77M395.45 368.72h-2.77M311.5 334.57h2.77M395.45 334.57h-2.77M344.42 317.5v2.77M344.42 557.3v-1.25M344.42 539.45v1.25M377.34 317.5v2.77M377.34 557.3v-1.25M377.34 539.45v1.25M395.45 548.38h-1.25" fill="none" stroke="#262626" stroke-width="0.6"/>
<path d="M311.19 539.45V431.09H311.81V539.45zM311.52 539.45V451.71H312.14V539.45zM311.85 539.45V446.94H312.47V539.45zM312.17 539.45V416.18H312.8V539.45zM312.5 539.45V454.8H313.13V539.45zM312.83 539.45V447.24H313.46V539.45zM313.16 539.45V447.26H313.79V539.45zM313.49 539.45V464.03H314.12V539.45zM313.82 539.45V437.53H314.45V539.45zM314.15 539.45V441.51H314.78V539.45zM314.48 539.45V453.24H315.1V539.45zM314.81 539.45V448.9H315.43V539.45zM315.14 539.45V442.42H315.76V539.45zM315.47 539.45V449.75H316.09V539.45zM315.8 539.45V449.58H316.42V539.45zM316.13 539.45V461.15H316.75V539.45zM316.45 539.45V441.95H317.08V539.45zM316.78 539.45V446.07H317.41V539.45zM317.11 539.45V434.62H317.74V539.45zM317.44 539.45V461.85H318.07V539.45zM317.77 539.45V431.47H318.4V539.45zM318.1 539.45V445.78H318.73V539.45zM318.43 539.45V450.96H319.06V539.45zM318.76 539.45V429.09H319.38V539.45zM319.09 539.45V447.69H319.71V539.45zM319.42 539.45V461.13H320.04V539.45zM319.75 539.45V451.13H320.37V539.45zM320.08 539.45V468.29H320.7V539.45zM320.41 539.45V437.22H321.03V539.45zM320.73 539.45V433.26H321.36V539.45zM321.06 539.45V454.35H321.69V539.45zM321.39 539.45V437H322.02V539.45zM321.72 539.45V463.04H322.35V539.45zM322.05 539.45V442.14H322.68V539.45zM322.38 539.45V466.99H323.01V539.45zM322.71 539.45V453.59H323.34V539.45zM323.04 539.45V458.77H323.66V539.45zM323.37 539.45V434.96H323.99V539.45zM323.7 539.45V430.37H324.32V539.45zM324.03 539.45V450.4H324.65V539.45zM324.36 539.45V439.22H324.98V539.45zM324.69 539.45V448.98H325.31V539.45zM325.01 539.45V441.82H325.64V539.45zM325.34 539.45V454.45H325.97V539.45zM325.67 539.45V463.59H326.3V539.45zM326 539.45V464.49H326.63V539.45zM326.33 539.45V443.59H326.96V539.45zM326.66 539.45V429.09H327.29V539.45zM326.99 539.45V444.68H327.62V539.45zM327.32 539.45V452.27H327.94V539.45zM327.65 539.45V429.09H328.27V539.45zM327.98 539.45V425.4H328.6V539.45zM328.31 539.45V446.29H328.93V539.45zM328.64 539.45V444.84H329.26V539.45zM328.96 539.45V448.52H329.59V539.45zM329.29 539.45V450.21H329.92V539.45zM329.62 539.45V460.97H330.25V539.45zM329.95 539.45V442.46H330.58V539.45zM330.28 539.45V389.89H330.91V539.45zM330.61 539.45V435.85H331.24V539.45zM330.94 539.45V450.78H331.57V539.45zM331.27 539.45V465.48H331.89V539.45zM331.6 539.45V448.21H332.22V539.45zM331.93 539.45V431.01H332.55V539.45zM332.26 539.45V450.92H332.88V539.45zM332.59 539.45V455.76H333.21V539.45zM332.92 539.45V458.67H333.54V539.45zM333.24 539.45V457.29H333.87V539.45zM333.57 539.45V450.13H334.2V539.45zM333.9 539.45V422.33H334.53V539.45zM334.23 539.45V432.94H334.86V539.45zM334.56 539.45V449.96H335.19V539.45zM334.89 539.45V446.22H335.52V539.45zM335.22 539.45V433.5H335.85V539.45zM335.55 539.45V432.88H336.17V539.45zM335.88 539.45V449.29H336.5V539.45zM336.21 539.45V444.08H336.83V539.45zM336.54 539.45V428.13H337.16V539.45zM336.87 539.45V449.1H337.49V539.45zM337.2 539.45V464.25H337.82V539.45zM337.52 539.45V441H338.15V539.45zM337.85 539.45V438.7H338.48V539.45zM338.18 539.45V443.28H338.81V539.45zM338.51 539.45V456.09H339.14V539.45zM338.84 539.45V449.13H339.47V539.45zM339.17 539.45V452.9H339.8V539.45zM339.5 539.45V450.12H340.13V539.45zM339.83 539.45V434.62H340.45V539.45zM340.16 539.45V432.63H340.78V539.45zM340.49 539.45V440.86H341.11V539.45zM340.82 539.45V402.87H341.44V539.45zM341.15 539.45V440.79H341.77V539.45zM341.48 539.45V447.37H342.1V539.45zM341.8 539.45V447.98H342.43V539.45zM342.13 539.45V453.7H342.76V539.45zM342.46 539.45V447.79H343.09V539.45zM342.79 539.45V429.09H343.42V539.45zM343.12 539.45V438.95H343.75V539.45zM343.45 539.45V450.53H344.08V539.45zM343.78 539.45V451.77H344.41V539.45zM344.11 539.45V455.52H344.73V539.45zM344.44 539.45V443.68H345.06V539.45zM344.77 539.45V443.51H345.39V539.45zM345.1 539.45V461.05H345.72V539.45zM345.43 539.45V428.13H346.05V539.45zM345.75 539.45V452.7H346.38V539.45zM346.08 539.45V433.61H346.71V539.45zM346.41 539.45V445.76H347.04V539.45zM346.74 539.45V430.83H347.37V539.45zM347.07 539.45V451.64H347.7V539.45zM347.4 539.45V450.01H348.03V539.45zM347.73 539.45V444.39H348.36V539.45zM348.06 539.45V437.16H348.68V539.45zM348.39 539.45V441.85H349.01V539.45zM348.72 539.45V459.05H349.34V539.45zM349.05 539.45V445.51H349.67V539.45zM349.38 539.45V447.04H350V539.45zM349.71 539.45V451.36H350.33V539.45zM350.03 539.45V453.45H350.66V539.45zM350.36 539.45V430.55H350.99V539.45zM350.69 539.45V450.99H351.32V539.45zM351.02 539.45V455.34H351.65V539.45zM351.35 539.45V441.16H351.98V539.45zM351.68 539.45V446.01H352.31V539.45zM352.01 539.45V447.98H352.64V539.45zM352.34 539.45V422.33H352.96V539.45zM352.67 539.45V442.58H353.29V539.45zM353 539.45V422.33H353.62V539.45zM353.33 539.45V438.04H353.95V539.45zM353.66 539.45V444.54H354.28V539.45zM353.99 539.45V453.15H354.61V539.45zM354.31 539.45V450.72H354.94V539.45zM354.64 539.45V452.24H355.27V539.45zM354.97 539.45V445.25H355.6V539.45zM355.3 539.45V457.56H355.93V539.45zM355.63 539.45V464.78H356.26V539.45zM355.96 539.45V446.41H356.59V539.45zM356.29 539.45V460.03H356.92V539.45zM356.62 539.45V428.13H357.24V539.45zM356.95 539.45V443.69H357.57V539.45zM357.28 539.45V454.05H357.9V539.45zM357.61 539.45V442.51H358.23V539.45zM357.94 539.45V452.33H358.56V539.45zM358.27 539.45V457.98H358.89V539.45zM358.59 539.45V459.14H359.22V539.45zM358.92 539.45V452.18H359.55V539.45zM359.25 539.45V449.87H359.88V539.45zM359.58 539.45V455.13H360.21V539.45zM359.91 539.45V449.94H360.54V539.45zM360.24 539.45V461.94H360.87V539.45zM360.57 539.45V447.12H361.2V539.45zM360.9 539.45V431.21H361.52V539.45zM361.23 539.45V449.11H361.85V539.45zM361.56 539.45V440.59H362.18V539.45zM361.89 539.45V436.82H362.51V539.45zM362.22 539.45V430.86H362.84V539.45zM362.54 539.45V462.13H363.17V539.45zM362.87 539.45V440H363.5V539.45zM363.2 539.45V435.72H363.83V539.45zM363.53 539.45V437.88H364.16V539.45zM363.86 539.45V431.89H364.49V539.45zM364.19 539.45V443.32H364.82V539.45zM364.52 539.45V429.47H365.15V539.45zM364.85 539.45V461.57H365.47V539.45zM365.18 539.45V442.7H365.8V539.45zM365.51 539.45V403.21H366.13V539.45zM365.84 539.45V453.92H366.46V539.45zM366.17 539.45V441.68H366.79V539.45zM366.5 539.45V457.49H367.12V539.45zM366.82 539.45V455.02H367.45V539.45zM367.15 539.45V455.07H367.78V539.45zM367.48 539.45V445.42H368.11V539.45zM367.81 539.45V424.72H368.44V539.45zM368.14 539.45V438.13H368.77V539.45zM368.47 539.45V456.25H369.1V539.45zM368.8 539.45V448.51H369.43V539.45zM369.13 539.45V438.07H369.75V539.45zM369.46 539.45V441.89H370.08V539.45zM369.79 539.45V421.65H370.41V539.45zM370.12 539.45V440.9H370.74V539.45zM370.45 539.45V451.83H371.07V539.45zM370.78 539.45V443.57H371.4V539.45zM371.1 539.45V444.38H371.73V539.45zM371.43 539.45V435.6H372.06V539.45zM371.76 539.45V446.14H372.39V539.45zM372.09 539.45V464.98H372.72V539.45zM372.42 539.45V460.35H373.05V539.45zM372.75 539.45V440.26H373.38V539.45zM373.08 539.45V405.94H373.71V539.45zM373.41 539.45V436.38H374.03V539.45zM373.74 539.45V444.64H374.36V539.45zM374.07 539.45V454.42H374.69V539.45zM374.4 539.45V436.91H375.02V539.45zM374.73 539.45V454.97H375.35V539.45zM375.06 539.45V466.88H375.68V539.45zM375.38 539.45V429.09H376.01V539.45zM375.71 539.45V465.52H376.34V539.45zM376.04 539.45V441.17H376.67V539.45zM376.37 539.45V438.28H377V539.45zM376.7 539.45V445.85H377.33V539.45zM377.03 539.45V422.33H377.66V539.45zM377.36 539.45V437.55H377.99V539.45zM377.69 539.45V461.04H378.31V539.45zM378.02 539.45V460.1H378.64V539.45zM378.35 539.45V450.71H378.97V539.45zM378.68 539.45V439.72H379.3V539.45zM379.01 539.45V444.39H379.63V539.45zM379.33 539.45V439.5H379.96V539.45zM379.66 539.45V451.5H380.29V539.45zM379.99 539.45V431.21H380.62V539.45zM380.32 539.45V458.13H380.95V539.45zM380.65 539.45V450.28H381.28V539.45zM380.98 539.45V441.58H381.61V539.45zM381.31 539.45V450.12H381.94V539.45zM381.64 539.45V442.71H382.26V539.45zM381.97 539.45V452.74H382.59V539.45zM382.3 539.45V452.92H382.92V539.45zM382.63 539.45V446.88H383.25V539.45zM382.96 539.45V449.12H383.58V539.45zM383.29 539.45V441.59H383.91V539.45zM383.61 539.45V445.55H384.24V539.45zM383.94 539.45V430.62H384.57V539.45zM384.27 539.45V449.35H384.9V539.45zM384.6 539.45V449.43H385.23V539.45zM384.93 539.45V457.2H385.56V539.45zM385.26 539.45V447.04H385.89V539.45zM385.59 539.45V440.73H386.22V539.45zM385.92 539.45V454.33H386.54V539.45zM386.25 539.45V447.73H386.87V539.45zM386.58 539.45V440.39H387.2V539.45zM386.91 539.45V448.47H387.53V539.45zM387.24 539.45V434.96H387.86V539.45zM387.57 539.45V437.95H388.19V539.45zM387.89 539.45V446.33H388.52V539.45zM388.22 539.45V443.46H388.85V539.45zM388.55 539.45V436.06H389.18V539.45zM388.88 539.45V436.31H389.51V539.45zM389.21 539.45V450.57H389.84V539.45zM389.54 539.45V452.28H390.17V539.45zM389.87 539.45V444.54H390.5V539.45zM390.2 539.45V426.77H390.82V539.45zM390.53 539.45V465.42H391.15V539.45zM390.86 539.45V435.06H391.48V539.45zM391.19 539.45V447.07H391.81V539.45zM391.52 539.45V440.21H392.14V539.45zM391.85 539.45V458.47H392.47V539.45zM392.17 539.45V434.94H392.8V539.45zM392.5 539.45V452.88H393.13V539.45zM392.83 539.45V448.28H393.46V539.45zM393.16 539.45V436.67H393.79V539.45zM393.49 539.45V448.85H394.12V539.45zM393.82 539.45V449.45H394.45V539.45zM394.15 539.45V449.03H394.78V539.45zM394.48 539.45V443.06H395.1V539.45zM394.81 539.45V446.68H395.43V539.45zM395.14 539.45V437.93H395.76V539.45z" fill="#00ff00"/>
<text x="308.1" y="542.25" font-size="6.8" text-anchor="end" class="t">0</text>
<text x="308.1" y="508.1" font-size="6.8" text-anchor="end" class="t">100</text>
<text x="308.1" y="473.96" font-size="6.8" text-anchor="end" class="t">200</text>
<text x="308.1" y="439.81" font-size="6.8" text-anchor="end" class="t">300</text>
<text x="308.1" y="405.66" font-size="6.8" text-anchor="end" class="t">400</text>
<text x="308.1" y="371.52" font-size="6.8" text-anchor="end" class="t">500</text>
<text x="308.1" y="337.37" font-size="6.8" text-anchor="end" class="t">600</text>
<text x="311.5" y="567.65" font-size="6.8" text-anchor="middle" class="t">0</text>
<text x="344.42" y="567.65" font-size="6.8" text-anchor="middle" class="t">100</text>
<text x="377.34" y="567.65" font-size="6.8" text-anchor="middle" class="t">200</text>
<text x="353.48" y="314.72" font-size="7.55" text-anchor="middle" class="b">Green component</text>
<rect x="422.4" y="539.45" width="83.95" height="17.85" fill="url(#gr)"/>
<path d="M422.4 557.3V317.5H506.35V557.3H422.4M422.4 539.45H506.35" fill="none" stroke="#262626" stroke-width="0.6"/>
<path d="M422.4 539.45h2.77M506.35 539.45h-2.77M422.4 505.15h2.77M506.35 505.15h-2.77M422.4 470.84h2.77M506.35 470.84h-2.77M422.4 436.54h2.77M506.35 436.54h-2.77M422.4 402.23h2.77M506.35 402.23h-2.77M422.4 367.93h2.77M506.35 367.93h-2.77M422.4 333.62h2.77M506.35 333.62h-2.77M455.32 317.5v2.77M455.32 557.3v-1.25M455.32 539.45v1.25M488.24 317.5v2.77M488.24 557.3v-1.25M488.24 539.45v1.25M506.35 548.38h-1.25" fill="none" stroke="#262626" stroke-width="0.6"/>
<path d="M422.02 539.45V443.39H422.78V539.45zM422.35 539.45V445.19H423.11V539.45zM422.68 539.45V450.29H423.44V539.45zM423.01 539.45V443.48H423.77V539.45zM423.34 539.45V428.65H424.1V539.45zM423.67 539.45V446.37H424.42V539.45zM424 539.45V452.77H424.75V539.45zM424.33 539.45V446.43H425.08V539.45zM424.66 539.45V444.88H425.41V539.45zM424.98 539.45V447.4H425.74V539.45zM425.31 539.45V439.47H426.07V539.45zM425.64 539.45V432.65H426.4V539.45zM425.97 539.45V429.33H426.73V539.45zM426.3 539.45V439.03H427.06V539.45zM426.63 539.45V432.14H427.39V539.45zM426.96 539.45V440.74H427.72V539.45zM427.29 539.45V433.87H428.05V539.45zM427.62 539.45V448.96H428.38V539.45zM427.95 539.45V444.24H428.7V539.45zM428.28 539.45V435.39H429.03V539.45zM428.61 539.45V439.23H429.36V539.45zM428.93 539.45V443.2H429.69V539.45zM429.26 539.45V437.73H430.02V539.45zM429.59 539.45V441.05H430.35V539.45zM429.92 539.45V440.21H430.68V539.45zM430.25 539.45V433.45H431.01V539.45zM430.58 539.45V442.11H431.34V539.45zM430.91 539.45V441.37H431.67V539.45zM431.24 539.45V446.47H432V539.45zM431.57 539.45V456.31H432.33V539.45zM431.9 539.45V443.91H432.66V539.45zM432.23 539.45V431.67H432.98V539.45zM432.56 539.45V456.98H433.31V539.45zM432.89 539.45V449.04H433.64V539.45zM433.21 539.45V444.8H433.97V539.45zM433.54 539.45V441.73H434.3V539.45zM433.87 539.45V436.42H434.63V539.45zM434.2 539.45V436.96H434.96V539.45zM434.53 539.45V435.35H435.29V539.45zM434.86 539.45V434.82H435.62V539.45zM435.19 539.45V447.45H435.95V539.45zM435.52 539.45V443.74H436.28V539.45zM435.85 539.45V446.48H436.61V539.45zM436.18 539.45V440.7H436.93V539.45zM436.51 539.45V445.72H437.26V539.45zM436.84 539.45V434.82H437.59V539.45zM437.17 539.45V431.67H437.92V539.45zM437.49 539.45V444.33H438.25V539.45zM437.82 539.45V447.34H438.58V539.45zM438.15 539.45V438.3H438.91V539.45zM438.48 539.45V450.87H439.24V539.45zM438.81 539.45V446.51H439.57V539.45zM439.14 539.45V447.73H439.9V539.45zM439.47 539.45V455.59H440.23V539.45zM439.8 539.45V456.98H440.56V539.45zM440.13 539.45V443.75H440.89V539.45zM440.46 539.45V447.45H441.21V539.45zM440.79 539.45V447.48H441.54V539.45zM441.12 539.45V432.08H441.87V539.45zM441.45 539.45V448.95H442.2V539.45zM441.77 539.45V432.94H442.53V539.45zM442.1 539.45V453.88H442.86V539.45zM442.43 539.45V456.98H443.19V539.45zM442.76 539.45V444.79H443.52V539.45zM443.09 539.45V440.94H443.85V539.45zM443.42 539.45V433.15H444.18V539.45zM443.75 539.45V446.45H444.51V539.45zM444.08 539.45V445.72H444.84V539.45zM444.41 539.45V427.62H445.17V539.45zM444.74 539.45V431.67H445.49V539.45zM445.07 539.45V454.57H445.82V539.45zM445.4 539.45V441.3H446.15V539.45zM445.72 539.45V443.54H446.48V539.45zM446.05 539.45V449.33H446.81V539.45zM446.38 539.45V445.76H447.14V539.45zM446.71 539.45V442.72H447.47V539.45zM447.04 539.45V448.68H447.8V539.45zM447.37 539.45V443.4H448.13V539.45zM447.7 539.45V439.3H448.46V539.45zM448.03 539.45V438.77H448.79V539.45zM448.36 539.45V446.27H449.12V539.45zM448.69 539.45V445.11H449.45V539.45zM449.02 539.45V443.18H449.77V539.45zM449.35 539.45V438.16H450.1V539.45zM449.68 539.45V442.39H450.43V539.45zM450 539.45V435.93H450.76V539.45zM450.33 539.45V440.29H451.09V539.45zM450.66 539.45V453.18H451.42V539.45zM450.99 539.45V437.08H451.75V539.45zM451.32 539.45V431.05H452.08V539.45zM451.65 539.45V440.08H452.41V539.45zM451.98 539.45V443.45H452.74V539.45zM452.31 539.45V437.69H453.07V539.45zM452.64 539.45V443.11H453.4V539.45zM452.97 539.45V442.52H453.72V539.45zM453.3 539.45V453.61H454.05V539.45zM453.63 539.45V434.95H454.38V539.45zM453.96 539.45V443.24H454.71V539.45zM454.28 539.45V430.36H455.04V539.45zM454.61 539.45V435.47H455.37V539.45zM454.94 539.45V439.93H455.7V539.45zM455.27 539.45V441.92H456.03V539.45zM455.6 539.45V440.43H456.36V539.45zM455.93 539.45V443.02H456.69V539.45zM456.26 539.45V422.81H457.02V539.45zM456.59 539.45V451.26H457.35V539.45zM456.92 539.45V437.72H457.68V539.45zM457.25 539.45V436.88H458V539.45zM457.58 539.45V440.06H458.33V539.45zM457.91 539.45V441.49H458.66V539.45zM458.24 539.45V437.4H458.99V539.45zM458.56 539.45V436.27H459.32V539.45zM458.89 539.45V440.79H459.65V539.45zM459.22 539.45V437.23H459.98V539.45zM459.55 539.45V436.88H460.31V539.45zM459.88 539.45V446.67H460.64V539.45zM460.21 539.45V438.37H460.97V539.45zM460.54 539.45V449.7H461.3V539.45zM460.87 539.45V456.98H461.63V539.45zM461.2 539.45V439.2H461.96V539.45zM461.53 539.45V445.88H462.28V539.45zM461.86 539.45V431.67H462.61V539.45zM462.19 539.45V451.08H462.94V539.45zM462.51 539.45V437.6H463.27V539.45zM462.84 539.45V444.88H463.6V539.45zM463.17 539.45V427.96H463.93V539.45zM463.5 539.45V450.16H464.26V539.45zM463.83 539.45V431.67H464.59V539.45zM464.16 539.45V445.13H464.92V539.45zM464.49 539.45V431.67H465.25V539.45zM464.82 539.45V443.9H465.58V539.45zM465.15 539.45V450.92H465.91V539.45zM465.48 539.45V448.38H466.24V539.45zM465.81 539.45V435.26H466.56V539.45zM466.14 539.45V436.19H466.89V539.45zM466.47 539.45V442.89H467.22V539.45zM466.79 539.45V434.78H467.55V539.45zM467.12 539.45V436.72H467.88V539.45zM467.45 539.45V449.67H468.21V539.45zM467.78 539.45V445.2H468.54V539.45zM468.11 539.45V433.77H468.87V539.45zM468.44 539.45V446.77H469.2V539.45zM468.77 539.45V437.47H469.53V539.45zM469.1 539.45V432.08H469.86V539.45zM469.43 539.45V451.09H470.19V539.45zM469.76 539.45V441.52H470.51V539.45zM470.09 539.45V447.09H470.84V539.45zM470.42 539.45V442.64H471.17V539.45zM470.75 539.45V448.28H471.5V539.45zM471.07 539.45V429.33H471.83V539.45zM471.4 539.45V443.77H472.16V539.45zM471.73 539.45V437.76H472.49V539.45zM472.06 539.45V450.13H472.82V539.45zM472.39 539.45V444.48H473.15V539.45zM472.72 539.45V436.82H473.48V539.45zM473.05 539.45V435.76H473.81V539.45zM473.38 539.45V437.1H474.14V539.45zM473.71 539.45V438.08H474.47V539.45zM474.04 539.45V435.51H474.79V539.45zM474.37 539.45V440.68H475.12V539.45zM474.7 539.45V439.41H475.45V539.45zM475.03 539.45V441.78H475.78V539.45zM475.35 539.45V439.03H476.11V539.45zM475.68 539.45V446.09H476.44V539.45zM476.01 539.45V438.5H476.77V539.45zM476.34 539.45V445.01H477.1V539.45zM476.67 539.45V448.58H477.43V539.45zM477 539.45V452.53H477.76V539.45zM477.33 539.45V436.56H478.09V539.45zM477.66 539.45V450.79H478.42V539.45zM477.99 539.45V449.74H478.75V539.45zM478.32 539.45V453.1H479.07V539.45zM478.65 539.45V434.14H479.4V539.45zM478.98 539.45V431.73H479.73V539.45zM479.3 539.45V448.33H480.06V539.45zM479.63 539.45V454.67H480.39V539.45zM479.96 539.45V448.19H480.72V539.45zM480.29 539.45V447.4H481.05V539.45zM480.62 539.45V446.41H481.38V539.45zM480.95 539.45V441.08H481.71V539.45zM481.28 539.45V433.11H482.04V539.45zM481.61 539.45V444.22H482.37V539.45zM481.94 539.45V441.02H482.7V539.45zM482.27 539.45V441.21H483.03V539.45zM482.6 539.45V441.28H483.35V539.45zM482.93 539.45V447.09H483.68V539.45zM483.26 539.45V444.56H484.01V539.45zM483.58 539.45V430.36H484.34V539.45zM483.91 539.45V451.58H484.67V539.45zM484.24 539.45V437.61H485V539.45zM484.57 539.45V446.18H485.33V539.45zM484.9 539.45V437.65H485.66V539.45zM485.23 539.45V454.55H485.99V539.45zM485.56 539.45V440.74H486.32V539.45zM485.89 539.45V446.9H486.65V539.45zM486.22 539.45V436.79H486.98V539.45zM486.55 539.45V444.14H487.3V539.45zM486.88 539.45V449.77H487.63V539.45zM487.21 539.45V438.24H487.96V539.45zM487.54 539.45V448.66H488.29V539.45zM487.86 539.45V450.71H488.62V539.45zM488.19 539.45V449.76H488.95V539.45zM488.52 539.45V449.05H489.28V539.45zM488.85 539.45V448.49H489.61V539.45zM489.18 539.45V447.95H489.94V539.45zM489.51 539.45V438.1H490.27V539.45zM489.84 539.45V426.25H490.6V539.45zM490.17 539.45V436.01H490.93V539.45zM490.5 539.45V431.68H491.26V539.45zM490.83 539.45V440.16H491.58V539.45zM491.16 539.45V444.27H491.91V539.45zM491.49 539.45V451.37H492.24V539.45zM491.82 539.45V446.33H492.57V539.45zM492.14 539.45V443.43H492.9V539.45zM492.47 539.45V435.32H493.23V539.45zM492.8 539.45V447.42H493.56V539.45zM493.13 539.45V433.5H493.89V539.45zM493.46 539.45V433.74H494.22V539.45zM493.79 539.45V444.99H494.55V539.45zM494.12 539.45V445.62H494.88V539.45zM494.45 539.45V432.76H495.21V539.45zM494.78 539.45V448.28H495.54V539.45zM495.11 539.45V450.21H495.86V539.45zM495.44 539.45V446.88H496.19V539.45zM495.77 539.45V440.43H496.52V539.45zM496.09 539.45V456.98H496.85V539.45zM496.42 539.45V439.12H497.18V539.45zM496.75 539.45V433.37H497.51V539.45zM497.08 539.45V435.8H497.84V539.45zM497.41 539.45V433.21H498.17V539.45zM497.74 539.45V452.57H498.5V539.45zM498.07 539.45V450.05H498.83V539.45zM498.4 539.45V430.36H499.16V539.45zM498.73 539.45V441H499.49V539.45zM499.06 539.45V435.52H499.82V539.45zM499.39 539.45V442.09H500.14V539.45zM499.72 539.45V439.57H500.47V539.45zM500.05 539.45V449.59H500.8V539.45zM500.37 539.45V446.69H501.13V539.45zM500.7 539.45V437.62H501.46V539.45zM501.03 539.45V423.5H501.79V539.45zM501.36 539.45V443.63H502.12V539.45zM501.69 539.45V438.19H502.45V539.45zM502.02 539.45V448.42H502.78V539.45zM502.35 539.45V453.73H503.11V539.45zM502.68 539.45V438.25H503.44V539.45zM503.01 539.45V445.14H503.77V539.45zM503.34 539.45V434.01H504.09V539.45zM503.67 539.45V449.32H504.42V539.45zM504 539.45V438.92H504.75V539.45zM504.33 539.45V439.97H505.08V539.45zM504.65 539.45V438.27H505.41V539.45zM504.98 539.45V434.33H505.74V539.45zM505.31 539.45V443.42H506.07V539.45zM505.64 539.45V442.03H506.4V539.45zM505.97 539.45V449.47H506.73V539.45z" fill="#0000ff"/>
<text x="419" y="542.25" font-size="6.8" text-anchor="end" class="t">0</text>
<text x="419" y="507.94" font-size="6.8" text-anchor="end" class="t">100</text>
<text x="419" y="473.64" font-size="6.8" text-anchor="end" class="t">200</text>
<text x="419" y="439.33" font-size="6.8" text-anchor="end" class="t">300</text>
<text x="419" y="405.03" font-size="6.8" text-anchor="end" class="t">400</text>
<text x="419" y="370.73" font-size="6.8" text-anchor="end" class="t">500</text>
<text x="419" y="336.42" font-size="6.8" text-anchor="end" class="t">600</text>
<text x="422.4" y="567.65" font-size="6.8" text-anchor="middle" class="t">0</text>
<text x="455.32" y="567.65" font-size="6.8" text-anchor="middle" class="t">100</text>
<text x="488.24" y="567.65" font-size="6.8" text-anchor="middle" class="t">200</text>
<text x="464.38" y="314.72" font-size="7.55" text-anchor="middle" class="b">Blue component</text>
<text x="153.25" y="277.9" font-size="22.7" text-anchor="middle" class="s">a) CT Scan</text>
<text x="511.0" y="277.6" font-size="22.58" text-anchor="middle" class="s">b) Mammography</text>
<text x="347.75" y="623.9" font-size="22.6" text-anchor="middle" class="s">c) Cancer Immunotherapy</text>
</svg>
</body></html>
